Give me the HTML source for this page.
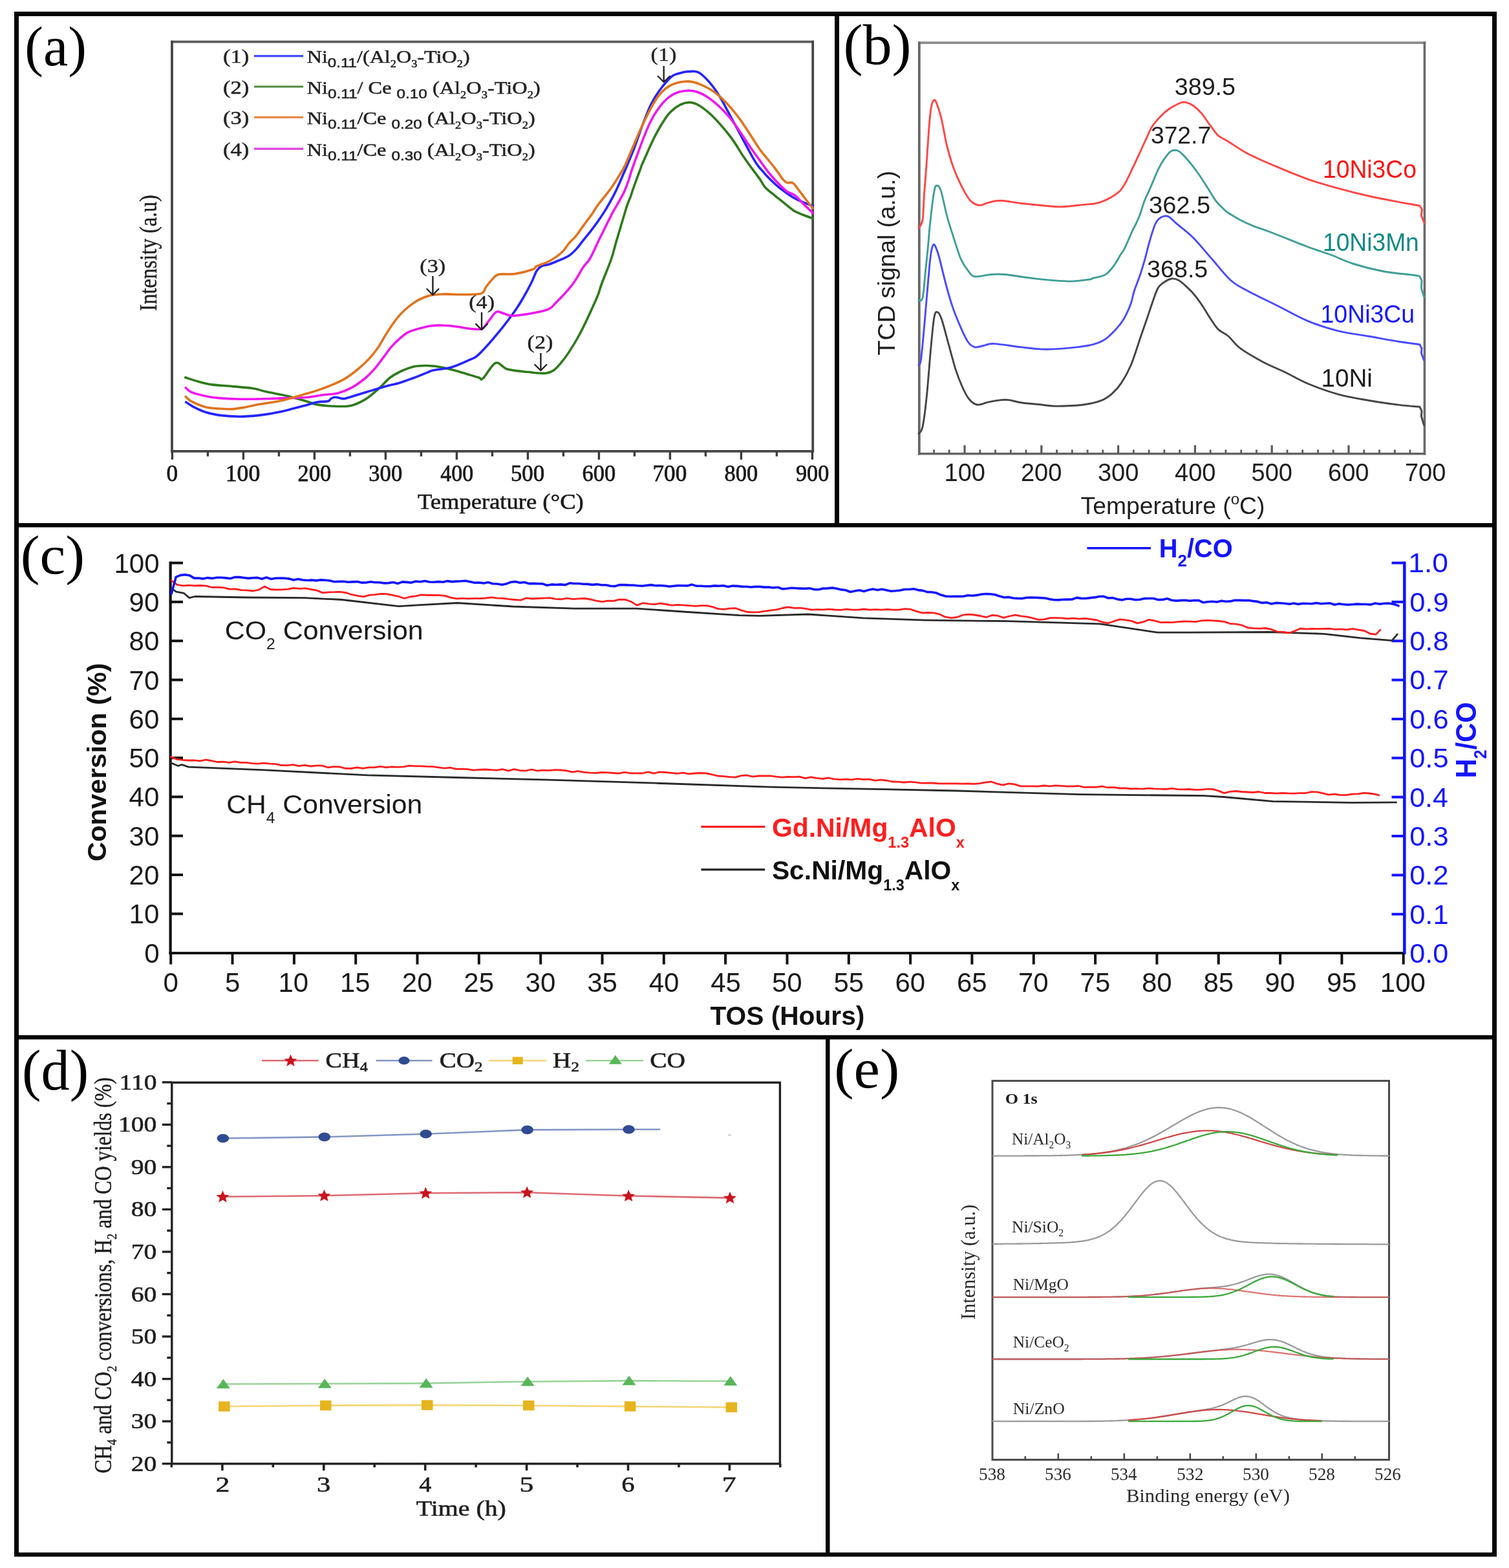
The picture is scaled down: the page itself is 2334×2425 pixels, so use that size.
<!DOCTYPE html>
<html><head><meta charset="utf-8"><title>Figure</title>
<style>html,body{margin:0;padding:0;background:#fff;}body{width:2334px;height:2425px;overflow:hidden;}svg{display:block;}</style>
</head><body>
<svg xmlns="http://www.w3.org/2000/svg" width="2334" height="2425" viewBox="0 0 2334 2425">
<rect x="22" y="18" width="2293" height="7" fill="#050505"/>
<rect x="22" y="18" width="7" height="2389" fill="#050505"/>
<rect x="2308" y="18" width="7" height="2389" fill="#050505"/>
<rect x="22" y="2401" width="2293" height="6.5" fill="#050505"/>
<rect x="22" y="809" width="2293" height="6.5" fill="#050505"/>
<rect x="22" y="1601" width="2293" height="6.5" fill="#050505"/>
<rect x="1291" y="18" width="7" height="797" fill="#050505"/>
<rect x="1277" y="1601" width="6.5" height="806" fill="#050505"/>
<text x="38.3" y="101.2" font-family="'Liberation Serif','Times New Roman',serif" font-size="86.2" textLength="95.6" lengthAdjust="spacingAndGlyphs" fill="#000">(a)</text>
<line x1="264.2" y1="64.6" x2="1259" y2="64.6" stroke="#5c5c5c" stroke-width="3.6"/>
<line x1="266" y1="62.8" x2="266" y2="699.6" stroke="#464646" stroke-width="3.8"/>
<line x1="1257.2" y1="62.8" x2="1257.2" y2="699.6" stroke="#464646" stroke-width="3.8"/>
<line x1="264.2" y1="697.8" x2="1259" y2="697.8" stroke="#464646" stroke-width="3.8"/>
<line x1="266.4" y1="697.8" x2="266.4" y2="710.8" stroke="#3c3c3c" stroke-width="3.4"/>
<line x1="321.4" y1="697.8" x2="321.4" y2="705.8" stroke="#3c3c3c" stroke-width="3.4"/>
<line x1="376.4" y1="697.8" x2="376.4" y2="710.8" stroke="#3c3c3c" stroke-width="3.4"/>
<line x1="431.4" y1="697.8" x2="431.4" y2="705.8" stroke="#3c3c3c" stroke-width="3.4"/>
<line x1="486.4" y1="697.8" x2="486.4" y2="710.8" stroke="#3c3c3c" stroke-width="3.4"/>
<line x1="541.4" y1="697.8" x2="541.4" y2="705.8" stroke="#3c3c3c" stroke-width="3.4"/>
<line x1="596.4" y1="697.8" x2="596.4" y2="710.8" stroke="#3c3c3c" stroke-width="3.4"/>
<line x1="651.4" y1="697.8" x2="651.4" y2="705.8" stroke="#3c3c3c" stroke-width="3.4"/>
<line x1="706.4" y1="697.8" x2="706.4" y2="710.8" stroke="#3c3c3c" stroke-width="3.4"/>
<line x1="761.4" y1="697.8" x2="761.4" y2="705.8" stroke="#3c3c3c" stroke-width="3.4"/>
<line x1="816.4" y1="697.8" x2="816.4" y2="710.8" stroke="#3c3c3c" stroke-width="3.4"/>
<line x1="871.4" y1="697.8" x2="871.4" y2="705.8" stroke="#3c3c3c" stroke-width="3.4"/>
<line x1="926.4" y1="697.8" x2="926.4" y2="710.8" stroke="#3c3c3c" stroke-width="3.4"/>
<line x1="981.4" y1="697.8" x2="981.4" y2="705.8" stroke="#3c3c3c" stroke-width="3.4"/>
<line x1="1036.4" y1="697.8" x2="1036.4" y2="710.8" stroke="#3c3c3c" stroke-width="3.4"/>
<line x1="1091.4" y1="697.8" x2="1091.4" y2="705.8" stroke="#3c3c3c" stroke-width="3.4"/>
<line x1="1146.4" y1="697.8" x2="1146.4" y2="710.8" stroke="#3c3c3c" stroke-width="3.4"/>
<line x1="1201.4" y1="697.8" x2="1201.4" y2="705.8" stroke="#3c3c3c" stroke-width="3.4"/>
<line x1="1256.4" y1="697.8" x2="1256.4" y2="710.8" stroke="#3c3c3c" stroke-width="3.4"/>
<text x="257.6" y="743.6" font-family="'Liberation Serif','Times New Roman',serif" font-size="35" textLength="17.5" lengthAdjust="spacingAndGlyphs" fill="#1a1a1a" stroke="#1a1a1a" stroke-width="0.75">0</text>
<text x="348.8" y="743.6" font-family="'Liberation Serif','Times New Roman',serif" font-size="35" textLength="53.4" lengthAdjust="spacingAndGlyphs" fill="#1a1a1a" stroke="#1a1a1a" stroke-width="0.75">100</text>
<text x="460.6" y="743.6" font-family="'Liberation Serif','Times New Roman',serif" font-size="35" textLength="51.5" lengthAdjust="spacingAndGlyphs" fill="#1a1a1a" stroke="#1a1a1a" stroke-width="0.75">200</text>
<text x="570.3" y="743.6" font-family="'Liberation Serif','Times New Roman',serif" font-size="35" textLength="51.9" lengthAdjust="spacingAndGlyphs" fill="#1a1a1a" stroke="#1a1a1a" stroke-width="0.75">300</text>
<text x="681.3" y="743.6" font-family="'Liberation Serif','Times New Roman',serif" font-size="35" textLength="50.8" lengthAdjust="spacingAndGlyphs" fill="#1a1a1a" stroke="#1a1a1a" stroke-width="0.75">400</text>
<text x="789.9" y="743.6" font-family="'Liberation Serif','Times New Roman',serif" font-size="35" textLength="52.3" lengthAdjust="spacingAndGlyphs" fill="#1a1a1a" stroke="#1a1a1a" stroke-width="0.75">500</text>
<text x="900.6" y="743.6" font-family="'Liberation Serif','Times New Roman',serif" font-size="35" textLength="51.5" lengthAdjust="spacingAndGlyphs" fill="#1a1a1a" stroke="#1a1a1a" stroke-width="0.75">600</text>
<text x="1009.5" y="743.6" font-family="'Liberation Serif','Times New Roman',serif" font-size="35" textLength="52.7" lengthAdjust="spacingAndGlyphs" fill="#1a1a1a" stroke="#1a1a1a" stroke-width="0.75">700</text>
<text x="1120.6" y="743.6" font-family="'Liberation Serif','Times New Roman',serif" font-size="35" textLength="51.5" lengthAdjust="spacingAndGlyphs" fill="#1a1a1a" stroke="#1a1a1a" stroke-width="0.75">800</text>
<text x="1231" y="743.6" font-family="'Liberation Serif','Times New Roman',serif" font-size="35" textLength="51.2" lengthAdjust="spacingAndGlyphs" fill="#1a1a1a" stroke="#1a1a1a" stroke-width="0.75">900</text>
<text x="646" y="787.3" font-family="'Liberation Serif','Times New Roman',serif" font-size="34" textLength="256.7" lengthAdjust="spacingAndGlyphs" fill="#1a1a1a" stroke="#1a1a1a" stroke-width="0.6">Temperature (°C)</text>
<text transform="translate(241.6,481.1) rotate(-90)" x="0" y="0" font-family="'Liberation Serif','Times New Roman',serif" font-size="37" textLength="179.9" lengthAdjust="spacingAndGlyphs" fill="#222" stroke="#222" stroke-width="0.4">Intensity (a.u)</text>
<line x1="393" y1="86.7" x2="469" y2="86.7" stroke="#4a4aff" stroke-width="3.2"/>
<text x="345.1" y="97.2" font-family="'Liberation Serif','Times New Roman',serif" font-size="29" textLength="40.3" lengthAdjust="spacingAndGlyphs" fill="#222" stroke="#222" stroke-width="0.5">(1)</text>
<text x="474.7" y="97.2" font-family="'Liberation Serif','Times New Roman',serif" font-size="28" textLength="252" lengthAdjust="spacingAndGlyphs" fill="#222" stroke="#222" stroke-width="0.5">Ni<tspan font-family="'Liberation Sans',Arial,sans-serif" font-size="21" dy="7">0.11</tspan><tspan dy="-7">/(Al</tspan><tspan font-size="16" dy="7">2</tspan><tspan dy="-7">O</tspan><tspan font-size="16" dy="7">3</tspan><tspan dy="-7">-TiO</tspan><tspan font-size="16" dy="7">2</tspan><tspan dy="-7">)</tspan></text>
<line x1="393" y1="134" x2="469" y2="134" stroke="#4f8a3c" stroke-width="3.2"/>
<text x="345.1" y="144.5" font-family="'Liberation Serif','Times New Roman',serif" font-size="29" textLength="40.3" lengthAdjust="spacingAndGlyphs" fill="#222" stroke="#222" stroke-width="0.5">(2)</text>
<text x="474.7" y="144.5" font-family="'Liberation Serif','Times New Roman',serif" font-size="28" textLength="361" lengthAdjust="spacingAndGlyphs" fill="#222" stroke="#222" stroke-width="0.5">Ni<tspan font-family="'Liberation Sans',Arial,sans-serif" font-size="21" dy="7">0.11</tspan><tspan dy="-7">/ Ce </tspan><tspan font-family="'Liberation Sans',Arial,sans-serif" font-size="21" dy="7">0.10</tspan><tspan dy="-7"> (Al</tspan><tspan font-size="16" dy="7">2</tspan><tspan dy="-7">O</tspan><tspan font-size="16" dy="7">3</tspan><tspan dy="-7">-TiO</tspan><tspan font-size="16" dy="7">2</tspan><tspan dy="-7">)</tspan></text>
<line x1="393" y1="181.4" x2="469" y2="181.4" stroke="#e8894a" stroke-width="3.2"/>
<text x="345.1" y="191.9" font-family="'Liberation Serif','Times New Roman',serif" font-size="29" textLength="40.3" lengthAdjust="spacingAndGlyphs" fill="#222" stroke="#222" stroke-width="0.5">(3)</text>
<text x="474.7" y="191.9" font-family="'Liberation Serif','Times New Roman',serif" font-size="28" textLength="353" lengthAdjust="spacingAndGlyphs" fill="#222" stroke="#222" stroke-width="0.5">Ni<tspan font-family="'Liberation Sans',Arial,sans-serif" font-size="21" dy="7">0.11</tspan><tspan dy="-7">/Ce </tspan><tspan font-family="'Liberation Sans',Arial,sans-serif" font-size="21" dy="7">0.20</tspan><tspan dy="-7"> (Al</tspan><tspan font-size="16" dy="7">2</tspan><tspan dy="-7">O</tspan><tspan font-size="16" dy="7">3</tspan><tspan dy="-7">-TiO</tspan><tspan font-size="16" dy="7">2</tspan><tspan dy="-7">)</tspan></text>
<line x1="393" y1="230.1" x2="469" y2="230.1" stroke="#e040e0" stroke-width="3.2"/>
<text x="345.1" y="240.6" font-family="'Liberation Serif','Times New Roman',serif" font-size="29" textLength="40.3" lengthAdjust="spacingAndGlyphs" fill="#222" stroke="#222" stroke-width="0.5">(4)</text>
<text x="474.7" y="240.6" font-family="'Liberation Serif','Times New Roman',serif" font-size="28" textLength="353" lengthAdjust="spacingAndGlyphs" fill="#222" stroke="#222" stroke-width="0.5">Ni<tspan font-family="'Liberation Sans',Arial,sans-serif" font-size="21" dy="7">0.11</tspan><tspan dy="-7">/Ce </tspan><tspan font-family="'Liberation Sans',Arial,sans-serif" font-size="21" dy="7">0.30</tspan><tspan dy="-7"> (Al</tspan><tspan font-size="16" dy="7">2</tspan><tspan dy="-7">O</tspan><tspan font-size="16" dy="7">3</tspan><tspan dy="-7">-TiO</tspan><tspan font-size="16" dy="7">2</tspan><tspan dy="-7">)</tspan></text>
<path d="M286.7,583.8 C290.1,584.8 299.9,588.2 306.8,590.1 C313.7,592 319.2,593.6 328,594.9 C336.8,596.1 349.2,596.6 359.8,597.6 C370.4,598.6 382.8,599.4 391.6,600.8 C400.5,602.2 404,604.2 412.9,606.1 C421.8,608 434.3,609.9 444.7,612.4 C455.1,614.9 467.2,618.6 475,620.9 C482.8,623.1 483.2,624.6 491.2,625.9 C499.2,627.2 514.2,628.3 523,628.5 C531.8,628.7 537.1,628.9 544.2,627 C551.3,625.1 558.3,621.8 565.4,617.4 C572.5,613 580.4,605.9 586.6,600.4 C592.8,594.9 597.3,588.7 602.6,584.5 C607.9,580.3 612.3,577.9 618.5,575 C624.7,572.1 632.6,568.6 639.7,567 C646.8,565.4 653.5,565.3 660.9,565.5 C668.3,565.7 675.9,566.6 684.2,568.2 C692.5,569.8 701.4,572.3 710.7,574.9 C720,577.5 734,582.1 740,583.8 C746,585.5 742.5,589 747,585.2 C751.5,581.5 760.4,563.6 766.7,561.3 C773,558.9 776.8,568.8 785,571.1 C793.2,573.4 805.6,574.4 815.9,575.3 C826.2,576.2 838.4,578.8 846.8,576.7 C855.2,574.6 858.5,572.1 866.5,562.7 C874.5,553.3 885.2,537.4 894.6,520.5 C904,503.6 916.8,474.9 922.7,461.5 C928.6,448.1 926.4,450.2 930.2,440 C934,429.8 941.9,411 945.7,400 C949.5,389 950.4,383.2 953,374.2 C955.6,365.2 958.6,355.5 961.4,346.1 C964.2,336.8 967.5,325.1 969.8,318.1 C972.1,311.1 973.7,308.7 975.4,304 C977.1,299.3 977.5,297 980,290 C982.5,283 987.8,268.7 990.3,262 C992.8,255.3 990.8,259.3 995,250 C999.2,240.7 1008.2,219 1015.4,206.1 C1022.5,193.2 1029.5,180.3 1037.9,172.4 C1046.3,164.5 1056.6,158.4 1066,158.4 C1075.4,158.4 1083.8,164 1094.1,172.4 C1104.4,180.8 1118.6,197.4 1127.9,209 C1137.2,220.6 1144.3,233.8 1150,242.2 C1155.7,250.6 1158.1,253.8 1162.2,259.4 C1166.3,265 1170.9,270.8 1174.5,275.9 C1178.1,281 1180.1,285.9 1183.7,290 C1187.3,294.1 1191.3,296.6 1195.9,300.4 C1200.5,304.2 1206.1,308.5 1211.2,312.6 C1216.3,316.7 1221.9,321.8 1226.5,324.9 C1231.1,328 1233.6,328.9 1238.7,331 C1243.8,333.1 1254,336.7 1257,337.8" fill="none" stroke="#2f7a1c" stroke-width="3.6" stroke-linejoin="round" stroke-linecap="round"/>
<path d="M287.7,622 C290,623.4 296.6,627.9 301.5,630.4 C306.4,632.9 311.2,635.3 317.4,637.3 C323.6,639.2 329.8,641 338.6,642.1 C347.4,643.2 359.8,644.2 370.4,644.2 C381,644.2 391.7,643.3 402.3,642.1 C412.9,640.9 422,639.4 434.1,636.8 C446.2,634.1 465.5,628.7 475,626.2 C484.5,623.7 485.8,622.6 491.2,621.7 C496.6,620.8 503.6,621.5 507.1,620.6 C510.6,619.7 510.2,617.6 512,616.5 C513.8,615.4 515.5,614.4 517.7,614.2 C519.9,614 522.4,615.1 525,615.5 C527.6,615.9 528.6,617.3 533.6,616.4 C538.6,615.5 547.7,612.1 554.8,610 C561.9,607.9 568.9,605.7 576,603.6 C583.1,601.5 590.2,599.2 597.3,597.3 C604.4,595.4 611.4,594.1 618.5,592 C625.6,589.9 632.6,587.1 639.7,584.5 C646.8,581.9 655.7,578.1 660.9,576.1 C666.1,574.1 664.8,573.7 670.9,572.4 C677,571.1 688.1,570.9 697.4,568.2 C706.7,565.5 719.5,559.6 726.6,556.3 C733.7,553 733.1,555 740,548.6 C746.9,542.2 758.7,528.9 768.1,517.7 C777.5,506.5 789.2,491 796.2,481.2 C803.2,471.4 806,466.1 810.3,458.7 C814.6,451.3 818.7,443.6 822,437 C825.3,430.4 827.4,423.2 830,419 C832.6,414.8 834.4,413.4 837.6,411.7 C840.8,410 844.8,410.3 849.1,408.9 C853.4,407.5 858.2,405.4 863.4,403.2 C868.5,401 875.4,398.5 880,395.5 C884.6,392.5 887.5,389.4 891.2,385.4 C894.9,381.4 898.6,376.1 902.4,371.4 C906.1,366.7 910,362.2 913.7,357.3 C917.5,352.4 921.2,347.5 924.9,342.2 C928.6,336.9 932.8,330.6 936.1,325.4 C939.4,320.2 941.7,315.9 944.5,310.8 C947.3,305.7 949.8,301.2 953,294.5 C956.2,287.8 959.3,280.5 963.6,270.5 C967.9,260.5 971.7,252.5 978.9,234.3 C986.1,216.1 997.6,179.9 1007,161.2 C1016.4,142.4 1027.6,129.8 1035.1,121.8 C1042.6,113.8 1046.8,114.9 1052,113 C1057.2,111.1 1060.8,110.5 1066,110.6 C1071.2,110.7 1075.9,108.2 1082.9,113.4 C1089.9,118.6 1099.8,129.3 1108.2,141.5 C1116.6,153.7 1124,169.2 1133.5,186.5 C1143,203.8 1158,232.7 1165.3,245.3 C1172.6,257.9 1172.9,256.8 1177.5,262.4 C1182.1,268 1187.7,274 1192.8,279 C1197.9,284 1202.5,288 1208.1,292.4 C1213.7,296.8 1220.9,301.9 1226.5,305.3 C1232.1,308.7 1236.7,310.4 1241.8,312.6 C1246.9,314.8 1254.5,317.4 1257,318.3" fill="none" stroke="#2424ff" stroke-width="3.6" stroke-linejoin="round" stroke-linecap="round"/>
<path d="M287.2,599.7 C288.7,600.9 291.2,604.5 296.2,606.6 C301.2,608.7 310.3,610.9 317.4,612.4 C324.5,613.9 329.8,614.8 338.6,615.6 C347.4,616.4 358,617 370.4,617.2 C382.8,617.4 400.5,617 412.9,616.7 C425.3,616.4 434.3,616 444.7,615.6 C455.1,615.2 465.5,615.4 475,614.5 C484.5,613.6 493.8,611.6 501.8,610.5 C509.8,609.4 515.9,609.8 523,607.9 C530.1,606 537.1,603.3 544.2,599.4 C551.3,595.5 559.5,589.4 565.4,584.5 C571.3,579.6 575.2,575.1 579.7,570 C584.2,564.9 588.2,559.1 592.4,553.6 C596.6,548.1 600.9,541.7 605.1,536.7 C609.4,531.8 613.8,527.6 617.9,523.9 C622,520.2 625.7,517 630,514.6 C634.3,512.2 637.8,511.2 643.6,509.5 C649.4,507.8 657.7,505.2 664.8,504.2 C671.9,503.1 678.9,503 686,503.2 C693.1,503.4 700.2,504.4 707.3,505.3 C714.4,506.2 722.1,508 728.5,508.5 C734.9,509 741.2,510.1 745.4,508.5 C749.6,506.9 750.5,503 753.9,498.9 C757.3,494.8 762.8,486.9 765.6,484.1 C768.4,481.3 768.5,481.8 770.9,482 C773.3,482.2 775.8,484.1 780,485.1 C784.2,486.1 785.5,489.1 796.2,488.2 C806.9,487.3 833.2,483.3 844,479.8 C854.8,476.3 854,473.7 860.9,467.1 C867.8,460.5 878.6,448.9 885.4,440 C892.2,431.1 897.1,420.7 901.6,414 C906.1,407.3 908.6,406.6 912.5,400 C916.4,393.4 921,382.2 924.9,374.2 C928.8,366.1 932.4,359.2 936.1,351.7 C939.8,344.2 943.5,336.3 947.3,329.3 C951,322.3 955.6,315 958.6,309.6 C961.6,304.2 963.1,301.6 965.3,296.7 C967.5,291.8 969.5,286.9 972,280 C974.5,273.1 974.2,270.6 980,255 C985.8,239.4 997.8,204 1007,186.5 C1016.2,169 1025.3,157.6 1035.1,149.9 C1044.9,142.2 1056.2,140.1 1066,140.1 C1075.8,140.1 1083.8,143.1 1094.1,149.9 C1104.4,156.7 1116.6,167.6 1127.9,180.9 C1139.2,194.2 1154.4,219 1162.2,230 C1170,241 1169.9,240.8 1174.5,247.1 C1179.1,253.4 1184.7,261.7 1189.8,268 C1194.9,274.3 1200.5,280.4 1205.1,285.1 C1209.7,289.8 1213.2,293.2 1217.3,296.1 C1221.4,299 1225.5,299.1 1229.6,302.2 C1233.7,305.3 1237.2,310 1241.8,314.5 C1246.4,319 1254.5,326.8 1257,329.3" fill="none" stroke="#ee18ee" stroke-width="3.6" stroke-linejoin="round" stroke-linecap="round"/>
<path d="M287.2,613.5 C288.7,614.7 291.2,618.2 296.2,620.9 C301.2,623.5 310.3,627.5 317.4,629.4 C324.5,631.2 331.5,631.5 338.6,632 C345.7,632.5 352.7,633 359.8,632.6 C366.9,632.2 373.9,630.6 381,629.4 C388.1,628.1 393.4,626.7 402.3,625.1 C411.2,623.5 422,622.6 434.1,619.8 C446.2,617 465.5,611.2 475,608.5 C484.5,605.8 485,605.7 491.2,603.6 C497.4,601.5 505.3,598.7 512.4,595.7 C519.5,592.7 526.6,589.8 533.6,585.6 C540.6,581.4 547.9,575.7 554.2,570.5 C560.5,565.3 566.2,559.8 571.2,554.5 C576.2,549.2 579.6,544.9 583.9,538.8 C588.1,532.6 592.5,524.3 596.7,517.6 C601,510.9 605.1,504.3 609.4,498.5 C613.7,492.7 616.7,488.4 622.4,483 C628.1,477.6 636.5,470.3 643.6,466 C650.7,461.7 657.7,458.9 664.8,457 C671.9,455.1 677.1,455.1 686,454.9 C694.9,454.6 708.2,455.7 717.9,455.5 C727.6,455.3 738.8,455.8 744.4,453.9 C750,451.9 749.1,447.2 751.8,443.8 C754.4,440.4 757.1,436.4 760.3,433.2 C763.5,430 764.9,426.1 770.9,424.5 C776.9,422.9 787.3,424.9 796.2,423.6 C805.1,422.3 818.7,418.5 824.3,416.5 C829.9,414.5 825.9,413.8 830,411.7 C834.1,409.6 842.7,407.6 849.1,404.1 C855.5,400.7 863.1,395.6 868.2,391 C873.4,386.4 876.2,380.8 880,376.4 C883.8,372 887.5,369.2 891.2,364.6 C894.9,360 898.6,354 902.4,348.9 C906.1,343.8 910,339.1 913.7,333.8 C917.5,328.5 921.2,322 924.9,316.9 C928.6,311.8 932.4,307.7 936.1,302.9 C939.8,298.1 943.6,293.3 947.3,288 C950.9,282.7 954.5,276.8 958,271 C961.5,265.2 962.2,265.7 968,253 C973.8,240.3 985.1,211.6 993,194.9 C1000.9,178.2 1008.4,163 1015.4,152.7 C1022.4,142.4 1027.6,137.5 1035.1,133.1 C1042.6,128.7 1052.4,126.5 1060.4,126 C1068.4,125.5 1074.5,126.8 1082.9,130.3 C1091.3,133.8 1101.2,138.7 1111,147.1 C1120.8,155.5 1131.3,167.1 1141.9,180.9 C1152.5,194.7 1167,219.3 1174.5,230 C1182,240.7 1182.6,240.2 1186.7,245.3 C1190.8,250.4 1194.9,255.2 1199,260.6 C1203.1,266 1208.2,274 1211.2,277.7 C1214.2,281.4 1214.8,281.7 1217.3,282.6 C1219.8,283.5 1223.4,281.2 1226.5,283.2 C1229.6,285.1 1232.6,290.4 1235.7,294.3 C1238.8,298.2 1241.4,301.9 1244.9,306.5 C1248.5,311.1 1255,319.4 1257,322" fill="none" stroke="#e0741e" stroke-width="3.6" stroke-linejoin="round" stroke-linecap="round"/>
<text x="649.3" y="420.8" font-family="'Liberation Serif','Times New Roman',serif" font-size="30" textLength="39.9" lengthAdjust="spacingAndGlyphs" fill="#222" stroke="#222" stroke-width="0.4">(3)</text>
<line x1="669.4" y1="427" x2="669.4" y2="456" stroke="#222" stroke-width="2.4"/>
<path d="M660.4,447 L669.4,456 L678.4,447" fill="none" stroke="#222" stroke-width="2.4" stroke-linejoin="round" stroke-linecap="round"/>
<text x="725.2" y="476.5" font-family="'Liberation Serif','Times New Roman',serif" font-size="30" textLength="39.9" lengthAdjust="spacingAndGlyphs" fill="#222" stroke="#222" stroke-width="0.4">(4)</text>
<line x1="745" y1="483" x2="745" y2="510" stroke="#222" stroke-width="2.4"/>
<path d="M736,501 L745,510 L754,501" fill="none" stroke="#222" stroke-width="2.4" stroke-linejoin="round" stroke-linecap="round"/>
<text x="815.6" y="539" font-family="'Liberation Serif','Times New Roman',serif" font-size="30" textLength="39.9" lengthAdjust="spacingAndGlyphs" fill="#222" stroke="#222" stroke-width="0.4">(2)</text>
<line x1="836.4" y1="546" x2="836.4" y2="573" stroke="#222" stroke-width="2.4"/>
<path d="M827.4,564 L836.4,573 L845.4,564" fill="none" stroke="#222" stroke-width="2.4" stroke-linejoin="round" stroke-linecap="round"/>
<text x="1006.6" y="93.5" font-family="'Liberation Serif','Times New Roman',serif" font-size="30" textLength="39.9" lengthAdjust="spacingAndGlyphs" fill="#222" stroke="#222" stroke-width="0.4">(1)</text>
<line x1="1026.7" y1="102" x2="1026.7" y2="127" stroke="#222" stroke-width="2.4"/>
<path d="M1017.7,118 L1026.7,127 L1035.7,118" fill="none" stroke="#222" stroke-width="2.4" stroke-linejoin="round" stroke-linecap="round"/>
<text x="1304.4" y="98.9" font-family="'Liberation Serif','Times New Roman',serif" font-size="88.3" textLength="105.2" lengthAdjust="spacingAndGlyphs" fill="#000">(b)</text>
<line x1="1420" y1="66.2" x2="2205.2" y2="66.2" stroke="#8c8c8c" stroke-width="3.8"/>
<line x1="1421.8" y1="64.3" x2="1421.8" y2="703.5" stroke="#666" stroke-width="3.8"/>
<line x1="2203.4" y1="64.3" x2="2203.4" y2="703.5" stroke="#6a6a6a" stroke-width="3.6"/>
<line x1="1420" y1="701.8" x2="2205.2" y2="701.8" stroke="#666" stroke-width="3.6"/>
<line x1="1444.5" y1="701.5" x2="1444.5" y2="695.5" stroke="#5a5a5a" stroke-width="2.8"/>
<line x1="1468.2" y1="701.5" x2="1468.2" y2="695.5" stroke="#5a5a5a" stroke-width="2.8"/>
<line x1="1492" y1="701.5" x2="1492" y2="688.5" stroke="#5a5a5a" stroke-width="3.2"/>
<line x1="1515.8" y1="701.5" x2="1515.8" y2="695.5" stroke="#5a5a5a" stroke-width="2.8"/>
<line x1="1539.5" y1="701.5" x2="1539.5" y2="695.5" stroke="#5a5a5a" stroke-width="2.8"/>
<line x1="1563.3" y1="701.5" x2="1563.3" y2="695.5" stroke="#5a5a5a" stroke-width="2.8"/>
<line x1="1587" y1="701.5" x2="1587" y2="695.5" stroke="#5a5a5a" stroke-width="2.8"/>
<line x1="1610.8" y1="701.5" x2="1610.8" y2="688.5" stroke="#5a5a5a" stroke-width="3.2"/>
<line x1="1634.6" y1="701.5" x2="1634.6" y2="695.5" stroke="#5a5a5a" stroke-width="2.8"/>
<line x1="1658.3" y1="701.5" x2="1658.3" y2="695.5" stroke="#5a5a5a" stroke-width="2.8"/>
<line x1="1682.1" y1="701.5" x2="1682.1" y2="695.5" stroke="#5a5a5a" stroke-width="2.8"/>
<line x1="1705.8" y1="701.5" x2="1705.8" y2="695.5" stroke="#5a5a5a" stroke-width="2.8"/>
<line x1="1729.6" y1="701.5" x2="1729.6" y2="688.5" stroke="#5a5a5a" stroke-width="3.2"/>
<line x1="1753.4" y1="701.5" x2="1753.4" y2="695.5" stroke="#5a5a5a" stroke-width="2.8"/>
<line x1="1777.1" y1="701.5" x2="1777.1" y2="695.5" stroke="#5a5a5a" stroke-width="2.8"/>
<line x1="1800.9" y1="701.5" x2="1800.9" y2="695.5" stroke="#5a5a5a" stroke-width="2.8"/>
<line x1="1824.6" y1="701.5" x2="1824.6" y2="695.5" stroke="#5a5a5a" stroke-width="2.8"/>
<line x1="1848.4" y1="701.5" x2="1848.4" y2="688.5" stroke="#5a5a5a" stroke-width="3.2"/>
<line x1="1872.2" y1="701.5" x2="1872.2" y2="695.5" stroke="#5a5a5a" stroke-width="2.8"/>
<line x1="1895.9" y1="701.5" x2="1895.9" y2="695.5" stroke="#5a5a5a" stroke-width="2.8"/>
<line x1="1919.7" y1="701.5" x2="1919.7" y2="695.5" stroke="#5a5a5a" stroke-width="2.8"/>
<line x1="1943.4" y1="701.5" x2="1943.4" y2="695.5" stroke="#5a5a5a" stroke-width="2.8"/>
<line x1="1967.2" y1="701.5" x2="1967.2" y2="688.5" stroke="#5a5a5a" stroke-width="3.2"/>
<line x1="1991" y1="701.5" x2="1991" y2="695.5" stroke="#5a5a5a" stroke-width="2.8"/>
<line x1="2014.7" y1="701.5" x2="2014.7" y2="695.5" stroke="#5a5a5a" stroke-width="2.8"/>
<line x1="2038.5" y1="701.5" x2="2038.5" y2="695.5" stroke="#5a5a5a" stroke-width="2.8"/>
<line x1="2062.2" y1="701.5" x2="2062.2" y2="695.5" stroke="#5a5a5a" stroke-width="2.8"/>
<line x1="2086" y1="701.5" x2="2086" y2="688.5" stroke="#5a5a5a" stroke-width="3.2"/>
<line x1="2109.8" y1="701.5" x2="2109.8" y2="695.5" stroke="#5a5a5a" stroke-width="2.8"/>
<line x1="2133.5" y1="701.5" x2="2133.5" y2="695.5" stroke="#5a5a5a" stroke-width="2.8"/>
<line x1="2157.3" y1="701.5" x2="2157.3" y2="695.5" stroke="#5a5a5a" stroke-width="2.8"/>
<line x1="2181" y1="701.5" x2="2181" y2="695.5" stroke="#5a5a5a" stroke-width="2.8"/>
<text x="1460.5" y="744" font-family="'Liberation Sans',Arial,sans-serif" font-size="38" textLength="63.4" lengthAdjust="spacingAndGlyphs" fill="#1e1e1e">100</text>
<text x="1578.9" y="744" font-family="'Liberation Sans',Arial,sans-serif" font-size="38" textLength="63.4" lengthAdjust="spacingAndGlyphs" fill="#1e1e1e">200</text>
<text x="1697.9" y="744" font-family="'Liberation Sans',Arial,sans-serif" font-size="38" textLength="63.4" lengthAdjust="spacingAndGlyphs" fill="#1e1e1e">300</text>
<text x="1817.1" y="744" font-family="'Liberation Sans',Arial,sans-serif" font-size="38" textLength="63.4" lengthAdjust="spacingAndGlyphs" fill="#1e1e1e">400</text>
<text x="1935.5" y="744" font-family="'Liberation Sans',Arial,sans-serif" font-size="38" textLength="63.4" lengthAdjust="spacingAndGlyphs" fill="#1e1e1e">500</text>
<text x="2054.1" y="744" font-family="'Liberation Sans',Arial,sans-serif" font-size="38" textLength="63.4" lengthAdjust="spacingAndGlyphs" fill="#1e1e1e">600</text>
<text x="2172.9" y="744" font-family="'Liberation Sans',Arial,sans-serif" font-size="38" textLength="63.4" lengthAdjust="spacingAndGlyphs" fill="#1e1e1e">700</text>
<text x="1671.5" y="795" font-family="'Liberation Sans',Arial,sans-serif" font-size="37" textLength="285" lengthAdjust="spacingAndGlyphs" fill="#1e1e1e">Temperature (<tspan font-size="24" dy="-15">o</tspan><tspan dy="15">C)</tspan></text>
<text transform="translate(1383.5,549.6) rotate(-90)" x="0" y="0" font-family="'Liberation Sans',Arial,sans-serif" font-size="37.5" textLength="285.6" lengthAdjust="spacingAndGlyphs" fill="#1e1e1e">TCD signal (a.u.)</text>
<path d="M1421,670.6 C1422,668.8 1425,669.5 1427,660 C1429,650.5 1431.2,633.4 1433.3,613.3 C1435.4,593.1 1437.8,559.6 1439.7,539.1 C1441.7,518.6 1443.2,499.7 1445,490.3 C1446.8,480.9 1448.3,482.2 1450.3,482.9 C1452.2,483.6 1453.9,486.2 1456.7,494.5 C1459.5,502.8 1463.8,520 1467.3,532.7 C1470.8,545.4 1474.4,559.9 1477.9,570.9 C1481.4,581.9 1485,590.7 1488.5,598.5 C1492,606.3 1495.2,612.9 1499.1,617.5 C1503,622.1 1506.8,625.3 1511.8,626 C1516.8,626.7 1522.8,623 1528.8,621.8 C1534.8,620.6 1542.6,619.1 1547.9,618.6 C1553.2,618.1 1555.3,617.9 1560.6,618.6 C1565.9,619.3 1571.2,621.6 1579.7,622.8 C1588.2,624 1602.7,625.1 1611.5,626 C1620.3,626.9 1622.1,628.1 1632.7,628.1 C1643.3,628.1 1663.4,627.4 1675.1,626 C1686.8,624.6 1695.3,622.5 1702.7,619.7 C1710.1,616.9 1714.4,613.7 1719.7,609.1 C1725,604.5 1729.6,599.5 1734.5,592.1 C1739.4,584.7 1744.3,576.5 1749.3,564.5 C1754.3,552.5 1760.5,531.9 1764.6,520 C1768.7,508.1 1770.9,502 1773.9,493.3 C1776.9,484.6 1779.6,475.8 1782.4,467.9 C1785.2,460 1788.1,450.9 1790.9,445.8 C1793.7,440.7 1795.9,439.8 1799.4,437.3 C1802.9,434.8 1808.1,431.6 1812.1,431 C1816,430.4 1819.6,431.7 1823.1,433.5 C1826.6,435.3 1829.5,438.1 1833.3,441.6 C1837.1,445.1 1841.8,449.4 1846,454.3 C1850.2,459.2 1854.5,465 1858.7,471.2 C1863,477.4 1867.2,485.2 1871.5,491.6 C1875.8,498 1879.5,504.7 1884.2,509.4 C1889,514.1 1894.3,515.1 1900,520 C1905.7,524.9 1909.4,532.1 1918.3,538.7 C1927.2,545.3 1941.6,553.5 1953.3,559.7 C1965,565.9 1976.6,570.4 1988.3,576 C2000,581.6 2009.7,587.9 2023.3,593.5 C2036.9,599.1 2054.4,605.5 2070,609.8 C2085.6,614.1 2101,616.5 2116.6,619.2 C2132.2,621.9 2150.1,624.4 2163.3,626.1 C2176.5,627.8 2190.6,628.7 2196,629.2 L2199,636 L2198.3,643.6 L2202.5,657.6" fill="none" stroke="#454545" stroke-width="2.9" stroke-linejoin="round" stroke-linecap="round"/>
<path d="M1421,564.5 C1421.6,562.7 1423.1,567 1424.8,553.9 C1426.5,540.8 1429.1,509.7 1431.2,486 C1433.3,462.3 1436,428.5 1437.6,411.8 C1439.2,395.1 1439.8,391.6 1441,386 C1442.2,380.4 1443.3,378.3 1444.5,378 C1445.7,377.7 1446.7,380.8 1448,384 C1449.3,387.2 1449.9,387.8 1452.4,397 C1454.9,406.2 1459.5,426.3 1463,439.4 C1466.5,452.5 1469.7,464.1 1473.6,475.4 C1477.5,486.7 1482.5,498.4 1486.4,507.3 C1490.3,516.1 1493.5,523.6 1497,528.5 C1500.5,533.4 1503.7,535.9 1507.6,536.9 C1511.5,537.9 1515.3,535.7 1520.3,534.8 C1525.2,533.9 1527.4,531.2 1537.3,531.6 C1547.2,532 1567.3,535.5 1579.7,536.9 C1592.1,538.3 1600.9,539.7 1611.5,540.1 C1622.1,540.5 1630.9,540.2 1643.3,539.1 C1655.7,538 1675.1,535.9 1685.7,533.8 C1696.3,531.7 1700.5,530 1706.9,526.3 C1713.3,522.6 1718.6,517.1 1723.9,511.5 C1729.2,505.9 1734.5,499.5 1738.7,492.4 C1742.9,485.3 1746.7,476.2 1749.3,469.1 C1751.9,462 1751.8,457.6 1754.3,450 C1756.8,442.4 1761.2,431.8 1764,423.5 C1766.8,415.2 1768.9,407.8 1771,400.4 C1773.1,393 1774.7,385.6 1776.5,379 C1778.3,372.4 1780.2,365.9 1781.9,360.6 C1783.6,355.3 1784.9,350.6 1786.6,347 C1788.3,343.4 1789.8,341.1 1792,339 C1794.2,336.9 1797.3,335 1800,334.4 C1802.7,333.8 1804.5,333.3 1807.9,335.3 C1811.3,337.3 1814,340.8 1820.2,346.2 C1826.5,351.6 1836.4,358.4 1845.4,367.5 C1854.5,376.6 1864.8,389.5 1874.5,400.5 C1884.2,411.5 1894.3,425.2 1903.6,433.5 C1912.8,441.8 1917.8,443.4 1930,450 C1942.2,456.6 1961.2,465.5 1976.7,473.3 C1992.2,481.1 2007.8,490.3 2023.3,496.7 C2038.8,503.1 2054.4,507.9 2070,511.8 C2085.6,515.7 2101,517.3 2116.6,520 C2132.2,522.7 2150.1,526.1 2163.3,528.2 C2176.5,530.3 2190.6,532 2196,532.8 L2199,539 L2198.3,545.7 L2202.5,557.3" fill="none" stroke="#4a4aff" stroke-width="2.9" stroke-linejoin="round" stroke-linecap="round"/>
<path d="M1421,464.8 C1422,464.1 1425.3,467.7 1427,460.6 C1428.7,453.5 1429.8,435.8 1431.2,422.4 C1432.6,409 1434.3,392.7 1435.5,380 C1436.7,367.3 1437,360.1 1438.5,346.3 C1440,332.5 1442.9,306.9 1444.7,297 C1446.5,287.1 1447.5,287.3 1449.3,287 C1451.1,286.7 1452.9,287.3 1455.5,295.4 C1458.1,303.5 1461.7,323.3 1465.1,335.7 C1468.5,348.1 1472.2,358.7 1475.7,369.6 C1479.2,380.5 1482.9,393.1 1486.4,401.2 C1490,409.3 1493.5,413.8 1497,418.2 C1500.5,422.6 1501.6,426.6 1507.6,427.7 C1513.6,428.8 1525.2,425 1533,424.5 C1540.8,424 1542.9,423.4 1554.2,424.5 C1565.5,425.6 1584.3,429.1 1600.9,430.9 C1617.5,432.7 1639.8,434.9 1653.9,435.1 C1668,435.3 1679.7,432.8 1685.7,432 C1691.7,431.2 1686.2,431.5 1690,430.4 C1693.8,429.3 1703.8,427.6 1708.4,425.5 C1713,423.4 1714.5,421 1717.6,417.6 C1720.6,414.2 1724.2,409.2 1726.7,405.3 C1729.2,401.4 1730.9,397.7 1732.9,394.3 C1735,390.9 1737,388.9 1739,385.1 C1741,381.3 1743.1,376.2 1745.1,371.6 C1747.1,367 1749.2,362 1751.2,357.6 C1753.2,353.2 1755.4,349.7 1757.4,345.3 C1759.5,340.9 1761.4,336.7 1763.5,331 C1765.6,325.3 1767.5,317.4 1770,311 C1772.5,304.6 1774.7,300.9 1778.2,292.9 C1781.7,284.9 1787.4,270.7 1790.9,263.2 C1794.4,255.7 1796.2,252.7 1799.4,247.9 C1802.7,243.1 1806.9,236.9 1810.4,234.3 C1813.9,231.8 1817.5,231.9 1820.6,232.6 C1823.7,233.3 1825.5,235.2 1829,238.6 C1832.5,242 1837.5,247.8 1841.8,253 C1846,258.2 1850.3,263.9 1854.5,270 C1858.7,276.1 1863,282.9 1867.2,289.5 C1871.5,296.1 1875.8,304.2 1880,309.8 C1884.2,315.4 1889.4,320.1 1892.7,323.4 C1896,326.6 1895.7,326.5 1900,329.3 C1904.3,332.1 1911.6,336.8 1918.3,340.3 C1925,343.8 1932.2,347 1940,350.1 C1947.8,353.2 1951.1,353.7 1965,359 C1978.9,364.3 2007.8,376.2 2023.3,382 C2038.8,387.8 2046.6,389.7 2058.3,394 C2070,398.3 2079.7,403.7 2093.3,408 C2106.9,412.3 2124.4,416.8 2140,419.7 C2155.6,422.6 2177.3,424.2 2186.6,425.5 C2195.9,426.8 2194.4,427.2 2196,427.5 L2199,434 L2198.3,445.3 L2202.5,459.3" fill="none" stroke="#3f9f96" stroke-width="2.9" stroke-linejoin="round" stroke-linecap="round"/>
<path d="M1421,352.7 C1422,350.6 1425.6,348.8 1427,340 C1428.4,331.2 1428.5,313.4 1429.5,300 C1430.5,286.6 1431.5,275.3 1432.7,259.4 C1433.9,243.4 1435.2,219.6 1436.4,204.3 C1437.6,189 1438.6,175.8 1440,167.5 C1441.4,159.2 1443.1,155.8 1444.6,154.7 C1446.1,153.6 1447.2,155.9 1449.2,161.1 C1451.2,166.3 1454.1,175.7 1456.6,185.9 C1459,196.2 1461.2,211.1 1463.9,222.6 C1466.7,234.1 1470,245.6 1473.1,254.8 C1476.2,264 1479.2,270.8 1482.3,277.7 C1485.4,284.6 1488.5,290.7 1491.5,296.1 C1494.5,301.5 1497.5,306.5 1500.6,309.9 C1503.6,313.3 1506.9,315.1 1509.8,316.3 C1512.7,317.5 1514.8,317.7 1518,317.2 C1521.2,316.7 1523.8,314.5 1528.8,313.4 C1533.8,312.2 1539.4,310.1 1547.9,310.3 C1556.4,310.5 1567.3,313.1 1579.7,314.5 C1592.1,315.9 1611.5,317.8 1622.1,318.7 C1632.7,319.6 1634.5,320.1 1643.3,319.8 C1652.1,319.5 1665.6,317.7 1675.1,316.6 C1684.5,315.5 1691.9,315.8 1700,313.3 C1708.1,310.8 1717.4,306.3 1723.9,301.8 C1730.4,297.3 1732.6,296.4 1738.8,286.1 C1745,275.8 1755.3,252.3 1761.2,240 C1767.1,227.7 1770.4,219.6 1773.9,212.1 C1777.4,204.6 1778.9,200.5 1782.4,195.1 C1785.9,189.7 1790.8,184.3 1795.1,179.9 C1799.3,175.5 1803,172.2 1807.9,168.8 C1812.9,165.4 1820.6,161.3 1824.8,159.5 C1829,157.7 1829.8,157.5 1833.3,158.2 C1836.8,158.9 1841.8,160.8 1846,163.7 C1850.2,166.6 1854.5,170.6 1858.7,175.6 C1863,180.6 1867.2,187.7 1871.5,193.4 C1875.8,199.1 1879.5,205.3 1884.2,209.6 C1889,213.8 1892.4,214.2 1900,218.9 C1907.6,223.6 1917.2,231.1 1930,237.7 C1942.8,244.3 1961.2,252.1 1976.7,258.7 C1992.2,265.3 2007.8,271.9 2023.3,277.3 C2038.8,282.7 2054.4,287 2070,291.3 C2085.6,295.6 2101,299.5 2116.6,303 C2132.2,306.5 2150.1,309.8 2163.3,312.3 C2176.5,314.8 2190.6,317.2 2196,318.2 L2199.5,324 L2198.3,333.3 L2203,345" fill="none" stroke="#ff4646" stroke-width="2.9" stroke-linejoin="round" stroke-linecap="round"/>
<text x="1816.8" y="147" font-family="'Liberation Sans',Arial,sans-serif" font-size="37.5" textLength="94.2" lengthAdjust="spacingAndGlyphs" fill="#1e1e1e">389.5</text>
<text x="1779.9" y="221.5" font-family="'Liberation Sans',Arial,sans-serif" font-size="37.5" textLength="93.3" lengthAdjust="spacingAndGlyphs" fill="#1e1e1e">372.7</text>
<text x="1777" y="330" font-family="'Liberation Sans',Arial,sans-serif" font-size="37.5" textLength="95.2" lengthAdjust="spacingAndGlyphs" fill="#1e1e1e">362.5</text>
<text x="1774.1" y="429" font-family="'Liberation Sans',Arial,sans-serif" font-size="37.5" textLength="94.2" lengthAdjust="spacingAndGlyphs" fill="#1e1e1e">368.5</text>
<text x="2046" y="275" font-family="'Liberation Sans',Arial,sans-serif" font-size="38.5" textLength="144.9" lengthAdjust="spacingAndGlyphs" fill="#ff1010">10Ni3Co</text>
<text x="2046" y="388" font-family="'Liberation Sans',Arial,sans-serif" font-size="38.5" textLength="148.8" lengthAdjust="spacingAndGlyphs" fill="#108a84">10Ni3Mn</text>
<text x="2042.5" y="499" font-family="'Liberation Sans',Arial,sans-serif" font-size="38.5" textLength="145.7" lengthAdjust="spacingAndGlyphs" fill="#1616ff">10Ni3Cu</text>
<text x="2043.5" y="598" font-family="'Liberation Sans',Arial,sans-serif" font-size="38.5" textLength="79.4" lengthAdjust="spacingAndGlyphs" fill="#1e1e1e">10Ni</text>
<text x="31.8" y="887.4" font-family="'Liberation Serif','Times New Roman',serif" font-size="85.3" textLength="99.3" lengthAdjust="spacingAndGlyphs" fill="#000">(c)</text>
<line x1="263.6" y1="868.6" x2="263.6" y2="1476" stroke="#111" stroke-width="4.2"/>
<line x1="261.5" y1="1474" x2="2170" y2="1474" stroke="#111" stroke-width="4.2"/>
<line x1="2172.3" y1="868.5" x2="2172.3" y2="1476" stroke="#1414ff" stroke-width="4.6"/>
<text x="223.2" y="1488.6" font-family="'Liberation Sans',Arial,sans-serif" font-size="42" textLength="23.4" lengthAdjust="spacingAndGlyphs" fill="#1a1a1a">0</text>
<line x1="263.6" y1="1413.3" x2="283" y2="1413.3" stroke="#111" stroke-width="4"/>
<text x="199.6" y="1428.3" font-family="'Liberation Sans',Arial,sans-serif" font-size="42" textLength="46.7" lengthAdjust="spacingAndGlyphs" fill="#1a1a1a">10</text>
<line x1="263.6" y1="1353" x2="283" y2="1353" stroke="#111" stroke-width="4"/>
<text x="199.6" y="1368" font-family="'Liberation Sans',Arial,sans-serif" font-size="42" textLength="46.7" lengthAdjust="spacingAndGlyphs" fill="#1a1a1a">20</text>
<line x1="263.6" y1="1292.7" x2="283" y2="1292.7" stroke="#111" stroke-width="4"/>
<text x="199.6" y="1307.7" font-family="'Liberation Sans',Arial,sans-serif" font-size="42" textLength="46.7" lengthAdjust="spacingAndGlyphs" fill="#1a1a1a">30</text>
<line x1="263.6" y1="1232.4" x2="283" y2="1232.4" stroke="#111" stroke-width="4"/>
<text x="199.6" y="1247.4" font-family="'Liberation Sans',Arial,sans-serif" font-size="42" textLength="46.7" lengthAdjust="spacingAndGlyphs" fill="#1a1a1a">40</text>
<line x1="263.6" y1="1172.1" x2="283" y2="1172.1" stroke="#111" stroke-width="4"/>
<text x="199.6" y="1187.1" font-family="'Liberation Sans',Arial,sans-serif" font-size="42" textLength="46.7" lengthAdjust="spacingAndGlyphs" fill="#1a1a1a">50</text>
<line x1="263.6" y1="1111.8" x2="283" y2="1111.8" stroke="#111" stroke-width="4"/>
<text x="199.6" y="1126.8" font-family="'Liberation Sans',Arial,sans-serif" font-size="42" textLength="46.7" lengthAdjust="spacingAndGlyphs" fill="#1a1a1a">60</text>
<line x1="263.6" y1="1051.5" x2="283" y2="1051.5" stroke="#111" stroke-width="4"/>
<text x="199.6" y="1066.5" font-family="'Liberation Sans',Arial,sans-serif" font-size="42" textLength="46.7" lengthAdjust="spacingAndGlyphs" fill="#1a1a1a">70</text>
<line x1="263.6" y1="991.2" x2="283" y2="991.2" stroke="#111" stroke-width="4"/>
<text x="199.6" y="1006.2" font-family="'Liberation Sans',Arial,sans-serif" font-size="42" textLength="46.7" lengthAdjust="spacingAndGlyphs" fill="#1a1a1a">80</text>
<line x1="263.6" y1="930.9" x2="283" y2="930.9" stroke="#111" stroke-width="4"/>
<text x="199.6" y="945.9" font-family="'Liberation Sans',Arial,sans-serif" font-size="42" textLength="46.7" lengthAdjust="spacingAndGlyphs" fill="#1a1a1a">90</text>
<line x1="263.6" y1="870.6" x2="283" y2="870.6" stroke="#111" stroke-width="4"/>
<text x="176.5" y="885.6" font-family="'Liberation Sans',Arial,sans-serif" font-size="42" textLength="70.1" lengthAdjust="spacingAndGlyphs" fill="#1a1a1a">100</text>
<line x1="264.2" y1="1474" x2="264.2" y2="1491.5" stroke="#111" stroke-width="4"/>
<text x="252.4" y="1534" font-family="'Liberation Sans',Arial,sans-serif" font-size="42" textLength="23.4" lengthAdjust="spacingAndGlyphs" fill="#1a1a1a">0</text>
<line x1="359.5" y1="1474" x2="359.5" y2="1491.5" stroke="#111" stroke-width="4"/>
<text x="348" y="1534" font-family="'Liberation Sans',Arial,sans-serif" font-size="42" textLength="23.4" lengthAdjust="spacingAndGlyphs" fill="#1a1a1a">5</text>
<line x1="454.9" y1="1474" x2="454.9" y2="1491.5" stroke="#111" stroke-width="4"/>
<text x="430.5" y="1534" font-family="'Liberation Sans',Arial,sans-serif" font-size="42" textLength="46.7" lengthAdjust="spacingAndGlyphs" fill="#1a1a1a">10</text>
<line x1="550.2" y1="1474" x2="550.2" y2="1491.5" stroke="#111" stroke-width="4"/>
<text x="526" y="1534" font-family="'Liberation Sans',Arial,sans-serif" font-size="42" textLength="46.7" lengthAdjust="spacingAndGlyphs" fill="#1a1a1a">15</text>
<line x1="645.5" y1="1474" x2="645.5" y2="1491.5" stroke="#111" stroke-width="4"/>
<text x="621.8" y="1534" font-family="'Liberation Sans',Arial,sans-serif" font-size="42" textLength="46.7" lengthAdjust="spacingAndGlyphs" fill="#1a1a1a">20</text>
<line x1="740.8" y1="1474" x2="740.8" y2="1491.5" stroke="#111" stroke-width="4"/>
<text x="717.3" y="1534" font-family="'Liberation Sans',Arial,sans-serif" font-size="42" textLength="46.7" lengthAdjust="spacingAndGlyphs" fill="#1a1a1a">25</text>
<line x1="836.2" y1="1474" x2="836.2" y2="1491.5" stroke="#111" stroke-width="4"/>
<text x="812.6" y="1534" font-family="'Liberation Sans',Arial,sans-serif" font-size="42" textLength="46.7" lengthAdjust="spacingAndGlyphs" fill="#1a1a1a">30</text>
<line x1="931.5" y1="1474" x2="931.5" y2="1491.5" stroke="#111" stroke-width="4"/>
<text x="908.2" y="1534" font-family="'Liberation Sans',Arial,sans-serif" font-size="42" textLength="46.7" lengthAdjust="spacingAndGlyphs" fill="#1a1a1a">35</text>
<line x1="1026.8" y1="1474" x2="1026.8" y2="1491.5" stroke="#111" stroke-width="4"/>
<text x="1003.7" y="1534" font-family="'Liberation Sans',Arial,sans-serif" font-size="42" textLength="46.7" lengthAdjust="spacingAndGlyphs" fill="#1a1a1a">40</text>
<line x1="1122.1" y1="1474" x2="1122.1" y2="1491.5" stroke="#111" stroke-width="4"/>
<text x="1099.2" y="1534" font-family="'Liberation Sans',Arial,sans-serif" font-size="42" textLength="46.7" lengthAdjust="spacingAndGlyphs" fill="#1a1a1a">45</text>
<line x1="1217.5" y1="1474" x2="1217.5" y2="1491.5" stroke="#111" stroke-width="4"/>
<text x="1193.9" y="1534" font-family="'Liberation Sans',Arial,sans-serif" font-size="42" textLength="46.7" lengthAdjust="spacingAndGlyphs" fill="#1a1a1a">50</text>
<line x1="1312.8" y1="1474" x2="1312.8" y2="1491.5" stroke="#111" stroke-width="4"/>
<text x="1289.5" y="1534" font-family="'Liberation Sans',Arial,sans-serif" font-size="42" textLength="46.7" lengthAdjust="spacingAndGlyphs" fill="#1a1a1a">55</text>
<line x1="1408.1" y1="1474" x2="1408.1" y2="1491.5" stroke="#111" stroke-width="4"/>
<text x="1384.4" y="1534" font-family="'Liberation Sans',Arial,sans-serif" font-size="42" textLength="46.7" lengthAdjust="spacingAndGlyphs" fill="#1a1a1a">60</text>
<line x1="1503.4" y1="1474" x2="1503.4" y2="1491.5" stroke="#111" stroke-width="4"/>
<text x="1479.9" y="1534" font-family="'Liberation Sans',Arial,sans-serif" font-size="42" textLength="46.7" lengthAdjust="spacingAndGlyphs" fill="#1a1a1a">65</text>
<line x1="1598.8" y1="1474" x2="1598.8" y2="1491.5" stroke="#111" stroke-width="4"/>
<text x="1575" y="1534" font-family="'Liberation Sans',Arial,sans-serif" font-size="42" textLength="46.7" lengthAdjust="spacingAndGlyphs" fill="#1a1a1a">70</text>
<line x1="1694.1" y1="1474" x2="1694.1" y2="1491.5" stroke="#111" stroke-width="4"/>
<text x="1670.6" y="1534" font-family="'Liberation Sans',Arial,sans-serif" font-size="42" textLength="46.7" lengthAdjust="spacingAndGlyphs" fill="#1a1a1a">75</text>
<line x1="1789.4" y1="1474" x2="1789.4" y2="1491.5" stroke="#111" stroke-width="4"/>
<text x="1765.9" y="1534" font-family="'Liberation Sans',Arial,sans-serif" font-size="42" textLength="46.7" lengthAdjust="spacingAndGlyphs" fill="#1a1a1a">80</text>
<line x1="1884.7" y1="1474" x2="1884.7" y2="1491.5" stroke="#111" stroke-width="4"/>
<text x="1861.4" y="1534" font-family="'Liberation Sans',Arial,sans-serif" font-size="42" textLength="46.7" lengthAdjust="spacingAndGlyphs" fill="#1a1a1a">85</text>
<line x1="1980.1" y1="1474" x2="1980.1" y2="1491.5" stroke="#111" stroke-width="4"/>
<text x="1956.3" y="1534" font-family="'Liberation Sans',Arial,sans-serif" font-size="42" textLength="46.7" lengthAdjust="spacingAndGlyphs" fill="#1a1a1a">90</text>
<line x1="2075.4" y1="1474" x2="2075.4" y2="1491.5" stroke="#111" stroke-width="4"/>
<text x="2051.9" y="1534" font-family="'Liberation Sans',Arial,sans-serif" font-size="42" textLength="46.7" lengthAdjust="spacingAndGlyphs" fill="#1a1a1a">95</text>
<line x1="2170.7" y1="1474" x2="2170.7" y2="1491.5" stroke="#111" stroke-width="4"/>
<text x="2134.8" y="1534" font-family="'Liberation Sans',Arial,sans-serif" font-size="42" textLength="70.1" lengthAdjust="spacingAndGlyphs" fill="#1a1a1a">100</text>
<text x="2180.2" y="1488.9" font-family="'Liberation Sans',Arial,sans-serif" font-size="42" textLength="60" lengthAdjust="spacingAndGlyphs" fill="#1414ff">0.0</text>
<line x1="2152.5" y1="1413.8" x2="2172" y2="1413.8" stroke="#1414ff" stroke-width="4"/>
<text x="2180.2" y="1428.5" font-family="'Liberation Sans',Arial,sans-serif" font-size="42" textLength="60.4" lengthAdjust="spacingAndGlyphs" fill="#1414ff">0.1</text>
<line x1="2152.5" y1="1353.4" x2="2172" y2="1353.4" stroke="#1414ff" stroke-width="4"/>
<text x="2180.2" y="1368.2" font-family="'Liberation Sans',Arial,sans-serif" font-size="42" textLength="60.4" lengthAdjust="spacingAndGlyphs" fill="#1414ff">0.2</text>
<line x1="2152.5" y1="1293" x2="2172" y2="1293" stroke="#1414ff" stroke-width="4"/>
<text x="2180.2" y="1307.8" font-family="'Liberation Sans',Arial,sans-serif" font-size="42" textLength="60.4" lengthAdjust="spacingAndGlyphs" fill="#1414ff">0.3</text>
<line x1="2152.5" y1="1232.7" x2="2172" y2="1232.7" stroke="#1414ff" stroke-width="4"/>
<text x="2180.2" y="1247.5" font-family="'Liberation Sans',Arial,sans-serif" font-size="42" textLength="59.5" lengthAdjust="spacingAndGlyphs" fill="#1414ff">0.4</text>
<line x1="2152.5" y1="1172.3" x2="2172" y2="1172.3" stroke="#1414ff" stroke-width="4"/>
<text x="2180.2" y="1187.1" font-family="'Liberation Sans',Arial,sans-serif" font-size="42" textLength="60.4" lengthAdjust="spacingAndGlyphs" fill="#1414ff">0.5</text>
<line x1="2152.5" y1="1112" x2="2172" y2="1112" stroke="#1414ff" stroke-width="4"/>
<text x="2180.2" y="1126.8" font-family="'Liberation Sans',Arial,sans-serif" font-size="42" textLength="60.4" lengthAdjust="spacingAndGlyphs" fill="#1414ff">0.6</text>
<line x1="2152.5" y1="1051.6" x2="2172" y2="1051.6" stroke="#1414ff" stroke-width="4"/>
<text x="2180.2" y="1066.4" font-family="'Liberation Sans',Arial,sans-serif" font-size="42" textLength="60.4" lengthAdjust="spacingAndGlyphs" fill="#1414ff">0.7</text>
<line x1="2152.5" y1="991.3" x2="2172" y2="991.3" stroke="#1414ff" stroke-width="4"/>
<text x="2180.2" y="1006.1" font-family="'Liberation Sans',Arial,sans-serif" font-size="42" textLength="60.4" lengthAdjust="spacingAndGlyphs" fill="#1414ff">0.8</text>
<line x1="2152.5" y1="930.9" x2="2172" y2="930.9" stroke="#1414ff" stroke-width="4"/>
<text x="2180.2" y="945.7" font-family="'Liberation Sans',Arial,sans-serif" font-size="42" textLength="60.4" lengthAdjust="spacingAndGlyphs" fill="#1414ff">0.9</text>
<line x1="2152.5" y1="870.6" x2="2172" y2="870.6" stroke="#1414ff" stroke-width="4"/>
<text x="2178.3" y="885.4" font-family="'Liberation Sans',Arial,sans-serif" font-size="42" textLength="61.8" lengthAdjust="spacingAndGlyphs" fill="#1414ff">1.0</text>
<text x="1098.4" y="1585" font-family="'Liberation Sans',Arial,sans-serif" font-size="40" font-weight="bold" textLength="239" lengthAdjust="spacingAndGlyphs" fill="#111">TOS (Hours)</text>
<text transform="translate(164,1332.3) rotate(-90)" x="0" y="0" font-family="'Liberation Sans',Arial,sans-serif" font-size="41" font-weight="bold" textLength="306.9" lengthAdjust="spacingAndGlyphs" fill="#111">Conversion (%)</text>
<text transform="translate(2283,1144.6) rotate(-90)" x="0" y="0" text-anchor="middle" font-family="'Liberation Sans',Arial,sans-serif" font-size="45" font-weight="bold" textLength="118" lengthAdjust="spacingAndGlyphs" fill="#1414ff">H<tspan font-size="27" dy="16">2</tspan><tspan dy="-16">/CO</tspan></text>
<text x="347.7" y="989.3" font-family="'Liberation Sans',Arial,sans-serif" font-size="40" textLength="307" lengthAdjust="spacingAndGlyphs" fill="#1a1a1a">CO<tspan font-size="23" dy="15">2</tspan><tspan dy="-15"> Conversion</tspan></text>
<text x="350.2" y="1258.4" font-family="'Liberation Sans',Arial,sans-serif" font-size="40" textLength="303" lengthAdjust="spacingAndGlyphs" fill="#1a1a1a">CH<tspan font-size="23" dy="15">4</tspan><tspan dy="-15"> Conversion</tspan></text>
<line x1="1681.4" y1="847.8" x2="1780" y2="847.8" stroke="#1414ff" stroke-width="3.6"/>
<text x="1792.7" y="862.2" font-family="'Liberation Sans',Arial,sans-serif" font-size="40" font-weight="bold" textLength="114" lengthAdjust="spacingAndGlyphs" fill="#1414ff">H<tspan font-size="26" dy="14">2</tspan><tspan dy="-14">/CO</tspan></text>
<line x1="1084.4" y1="1278.6" x2="1183.3" y2="1278.6" stroke="#ff1e1e" stroke-width="3.2"/>
<line x1="1084.4" y1="1344.8" x2="1183.3" y2="1344.8" stroke="#222" stroke-width="3.2"/>
<text x="1193.9" y="1294" font-family="'Liberation Sans',Arial,sans-serif" font-size="40" font-weight="bold" textLength="298" lengthAdjust="spacingAndGlyphs" fill="#ff1e1e">Gd.Ni/Mg<tspan font-size="23" dy="17">1.3</tspan><tspan dy="-17">AlO</tspan><tspan font-size="23" dy="17">x</tspan></text>
<text x="1193.9" y="1360.2" font-family="'Liberation Sans',Arial,sans-serif" font-size="40" font-weight="bold" textLength="290.5" lengthAdjust="spacingAndGlyphs" fill="#111">Sc.Ni/Mg<tspan font-size="23" dy="17">1.3</tspan><tspan dy="-17">AlO</tspan><tspan font-size="23" dy="17">x</tspan></text>
<path d="M265.2,910 L272.5,915.2 L284.2,917.3 L292.9,924.6 L301.6,922.5 L383.3,924 L470.8,924.6 L529.1,927.5 L616.6,937.7 L650,935.7 L707.3,932.5 L793.2,938 L888.6,941.1 L984.1,941.1 L1063.6,946.5 L1143.2,951.6 L1175,952.3 L1250,950 L1335.4,955.9 L1430.9,959.1 L1558.2,960.7 L1701.3,964.8 L1790.4,978.2 L1840,978.2 L1965.4,977.5 L2048.1,980.3 L2103.3,986.6 L2152.9,990.7 L2161.2,981.1" fill="none" stroke="#2a2a2a" stroke-width="2.8" stroke-linejoin="round" stroke-linecap="round"/>
<path d="M265.2,897.8 L274.2,904.4 L283.2,905.8 L292.2,905.1 L301.2,905.9 L310.2,905.5 L319.2,906.1 L328.2,908.5 L337.2,908.1 L346.2,908.8 L355.2,911.1 L364.2,911 L373.2,912.6 L382.2,912.8 L391.2,914 L400.2,912.1 L409.2,907 L418.2,911.5 L427.2,912 L436.2,911.9 L445.2,911.2 L454.2,909.5 L463.2,910.4 L472.2,909.9 L481.2,911.5 L490.2,913.1 L499.2,916.9 L508.2,915.8 L517.2,915.7 L526.2,915.4 L535.2,916.6 L544.2,919.7 L553.2,921.4 L562.2,922.9 L571.2,920.4 L580.2,919.6 L589.2,918.4 L598.2,918.6 L607.2,920.4 L616.2,922.3 L625.2,925.5 L634.2,923 L643.2,921.9 L652.2,919.8 L661.2,920.5 L670.2,920.4 L679.2,920.6 L688.2,921.3 L697.2,924.2 L706.2,925.9 L715.2,925.4 L724.2,925.8 L733.2,925.5 L742.2,925.7 L751.2,925 L760.2,923.8 L769.2,925.1 L778.2,925.4 L787.2,926.7 L796.2,927.5 L805.2,928.2 L814.2,924.9 L823.2,926 L832.2,925.5 L841.2,925.1 L850.2,924.7 L859.2,926.4 L868.2,926.8 L877.2,925.1 L886.2,926.6 L895.2,925.9 L904.2,925.5 L913.2,927 L922.2,929.2 L931.2,930.6 L940.2,929.2 L949.2,929.3 L958.2,927.1 L967.2,927.4 L976.2,930.5 L985.2,936.1 L994.2,932.7 L1003.2,933.9 L1012.2,934.7 L1021.2,933.2 L1030.2,934.5 L1039.2,936.1 L1048.2,935.3 L1057.2,935.9 L1066.2,936.6 L1075.2,937.3 L1084.2,936.7 L1093.2,936.7 L1102.2,938.6 L1111.2,941.7 L1120.2,942.3 L1129.2,940.8 L1138.2,940.7 L1147.2,944.1 L1156.2,946.5 L1165.2,946.8 L1174.2,946.7 L1183.2,945.2 L1192.2,943.8 L1201.2,942.9 L1210.2,940.5 L1219.2,938.8 L1228.2,940.3 L1237.2,940.2 L1246.2,941.3 L1255.2,943.2 L1264.2,942.6 L1273.2,942.9 L1282.2,942.1 L1291.2,943 L1300.2,943.3 L1309.2,942.1 L1318.2,943.2 L1327.2,943.2 L1336.2,942 L1345.2,943.1 L1354.2,942.7 L1363.2,943.1 L1372.2,942.4 L1381.2,943.1 L1390.2,943.1 L1399.2,941.6 L1408.2,942.2 L1417.2,945.4 L1426.2,947.9 L1435.2,947.5 L1444.2,947.9 L1453.2,949.9 L1462.2,954.2 L1471.2,955.7 L1480.2,954.5 L1489.2,951.2 L1498.2,950.2 L1507.2,951 L1516.2,952.5 L1525.2,954.7 L1534.2,951.5 L1543.2,952.2 L1552.2,955.4 L1561.2,953 L1570.2,951.2 L1579.2,952.9 L1588.2,953.9 L1597.2,955.9 L1606.2,958.3 L1615.2,957.8 L1624.2,955.6 L1633.2,955.6 L1642.2,955.8 L1651.2,956.9 L1660.2,956.2 L1669.2,957.2 L1678.2,956.5 L1687.2,957.6 L1696.2,959 L1705.2,962.2 L1714.2,963.8 L1723.2,960.7 L1732.2,957.9 L1741.2,958.8 L1750.2,960.4 L1759.2,963.9 L1768.2,961.9 L1777.2,958.3 L1786.2,960.1 L1795.2,962.6 L1804.2,962.5 L1813.2,962.6 L1822.2,961.6 L1831.2,961 L1840.2,961.2 L1849.2,961.6 L1858.2,959.9 L1867.2,959.4 L1876.2,959.9 L1885.2,960.5 L1894.2,961.6 L1903.2,964.7 L1912.2,965.2 L1921.2,967 L1930.2,971 L1939.2,971.7 L1948.2,972.2 L1957.2,971.5 L1966.2,973.2 L1975.2,976.8 L1984.2,977.3 L1993.2,979 L2002.2,976.1 L2011.2,972 L2020.2,972.8 L2029.2,972.4 L2038.2,972.6 L2047.2,972.4 L2056.2,972.2 L2065.2,973.3 L2074.2,972.8 L2083.2,973.9 L2092.2,972.4 L2101.2,974.2 L2110.2,975.5 L2119.2,980 L2128.2,981.1 L2135,973.9" fill="none" stroke="#ff1e1e" stroke-width="2.8" stroke-linejoin="round" stroke-linecap="round"/>
<path d="M264.3,1179.8 L275.5,1184.5 L281,1182.5 L291.4,1186.1 L409,1190.9 L568.2,1198.9 L727.2,1203 L850,1206.2 L1015,1211.2 L1189.9,1217.2 L1364.8,1220.7 L1480,1223 L1670.9,1228.7 L1861.8,1230.6 L1892.4,1232.5 L1968.7,1239.4 L2090.9,1241.3 L2159.6,1240.9" fill="none" stroke="#2a2a2a" stroke-width="2.8" stroke-linejoin="round" stroke-linecap="round"/>
<path d="M264.3,1170.5 L273.3,1174.2 L282.3,1175.4 L291.3,1176 L300.3,1175.8 L309.3,1176.8 L318.3,1175 L327.3,1176.7 L336.3,1178.5 L345.3,1178.2 L354.3,1179.4 L363.3,1177.9 L372.3,1179.4 L381.3,1179.3 L390.3,1180.6 L399.3,1181.2 L408.3,1180.1 L417.3,1181.1 L426.3,1181.6 L435.3,1183.7 L444.3,1183.7 L453.3,1182.6 L462.3,1184.6 L471.3,1183.3 L480.3,1185 L489.3,1184.1 L498.3,1184.2 L507.3,1186.9 L516.3,1185.6 L525.3,1186 L534.3,1188.4 L543.3,1188.5 L552.3,1186.9 L561.3,1188.3 L570.3,1186.9 L579.3,1186.9 L588.3,1185.4 L597.3,1186.9 L606.3,1185.9 L615.3,1186.3 L624.3,1185.8 L633.3,1184.1 L642.3,1184.8 L651.3,1184.8 L660.3,1185.3 L669.3,1185.6 L678.3,1186.8 L687.3,1188.1 L696.3,1187.1 L705.3,1189.4 L714.3,1189.1 L723.3,1189.6 L732.3,1191.2 L741.3,1190.4 L750.3,1190 L759.3,1190.6 L768.3,1191.2 L777.3,1189.6 L786.3,1192.1 L795.3,1189.7 L804.3,1191.7 L813.3,1192 L822.3,1190 L831.3,1192.1 L840.3,1191.1 L849.3,1191.7 L858.3,1190.6 L867.3,1191 L876.3,1191.8 L885.3,1194.2 L894.3,1192.6 L903.3,1194.4 L912.3,1195.2 L921.3,1195.7 L930.3,1194.5 L939.3,1194.9 L948.3,1195.5 L957.3,1196.1 L966.3,1194.3 L975.3,1195.9 L984.3,1195.9 L993.3,1196 L1002.3,1193.8 L1011.3,1196.1 L1020.3,1193.8 L1029.3,1194.5 L1038.3,1195.4 L1047.3,1196.4 L1056.3,1195.1 L1065.3,1196.8 L1074.3,1196 L1083.3,1195.5 L1092.3,1195.8 L1101.3,1197.9 L1110.3,1200 L1119.3,1200.6 L1128.3,1201.7 L1137.3,1202.2 L1146.3,1199.7 L1155.3,1199 L1164.3,1201.1 L1173.3,1200 L1182.3,1200 L1191.3,1199.9 L1200.3,1201.2 L1209.3,1202.1 L1218.3,1201.5 L1227.3,1201.7 L1236.3,1201.1 L1245.3,1203.7 L1254.3,1201.8 L1263.3,1203.3 L1272.3,1204.5 L1281.3,1203 L1290.3,1204.8 L1299.3,1205.7 L1308.3,1205.2 L1317.3,1205.9 L1326.3,1204.4 L1335.3,1205.5 L1344.3,1205.1 L1353.3,1207.2 L1362.3,1206.1 L1371.3,1207 L1380.3,1209 L1389.3,1209.1 L1398.3,1210 L1407.3,1209.2 L1416.3,1209.9 L1425.3,1211.1 L1434.3,1211 L1443.3,1211 L1452.3,1211.9 L1461.3,1211.8 L1470.3,1211.9 L1479.3,1211.8 L1488.3,1212.2 L1497.3,1212 L1506.3,1212.4 L1515.3,1211.6 L1524.3,1209.8 L1533.3,1209 L1542.3,1212.1 L1551.3,1214.1 L1560.3,1211.9 L1569.3,1212.9 L1578.3,1215.8 L1587.3,1215.9 L1596.3,1215.8 L1605.3,1216.1 L1614.3,1215 L1623.3,1215.9 L1632.3,1214.8 L1641.3,1215.4 L1650.3,1216.1 L1659.3,1216.2 L1668.3,1215.5 L1677.3,1217.6 L1686.3,1217.2 L1695.3,1217.3 L1704.3,1216.2 L1713.3,1218 L1722.3,1217.6 L1731.3,1219 L1740.3,1218.8 L1749.3,1220 L1758.3,1219.7 L1767.3,1220.1 L1776.3,1219.1 L1785.3,1219.9 L1794.3,1220.2 L1803.3,1220.5 L1812.3,1219.4 L1821.3,1220.7 L1830.3,1220.9 L1839.3,1220.5 L1848.3,1221.3 L1857.3,1221.3 L1866.3,1220.3 L1875.3,1220.4 L1884.3,1222.9 L1893.3,1226.6 L1902.3,1224.3 L1911.3,1223.5 L1920.3,1224.5 L1929.3,1225 L1938.3,1225.5 L1947.3,1224.5 L1956.3,1226.5 L1965.3,1226.5 L1974.3,1227.1 L1983.3,1226.5 L1992.3,1226.9 L2001.3,1227.1 L2010.3,1226.6 L2019.3,1226.6 L2028.3,1224.7 L2037.3,1224.9 L2046.3,1226.9 L2055.3,1229.1 L2064.3,1228.2 L2073.3,1229.6 L2082.3,1229.7 L2091.3,1228.2 L2100.3,1227.8 L2109.3,1226.4 L2118.3,1227 L2127.3,1228.3 L2132.9,1229.9" fill="none" stroke="#ff1e1e" stroke-width="2.8" stroke-linejoin="round" stroke-linecap="round"/>
<path d="M265.2,918.2 L272.2,892.4 L279.2,889.6 L286.2,888.7 L293.2,889.9 L300.2,894.1 L307.2,894 L314.2,895.1 L321.2,893.6 L328.2,894.5 L335.2,893.3 L342.2,893.2 L349.2,893.9 L356.2,894.8 L363.2,892.6 L370.2,892.6 L377.2,893.5 L384.2,894.4 L391.2,893.7 L398.2,893.4 L405.2,895.3 L412.2,893 L419.2,895.5 L426.2,894.2 L433.2,894.1 L440.2,894.3 L447.2,895.1 L454.2,896.9 L461.2,895.5 L468.2,897 L475.2,897.5 L482.2,897.1 L489.2,897.9 L496.2,896.9 L503.2,897.3 L510.2,898 L517.2,899.7 L524.2,899.4 L531.2,899.3 L538.2,900.2 L545.2,899.9 L552.2,899.6 L559.2,901.1 L566.2,901 L573.2,899.8 L580.2,900.8 L587.2,900.8 L594.2,901.9 L601.2,901.6 L608.2,900.5 L615.2,902.5 L622.2,899.9 L629.2,900.4 L636.2,901.1 L643.2,899.1 L650.2,899.8 L657.2,898.4 L664.2,900 L671.2,900.2 L678.2,899.6 L685.2,900.3 L692.2,898.6 L699.2,899.6 L706.2,899.1 L713.2,898.8 L720.2,898.2 L727.2,899.8 L734.2,901.3 L741.2,901 L748.2,901.9 L755.2,900.6 L762.2,902.8 L769.2,903 L776.2,904.3 L783.2,902.9 L790.2,900.2 L797.2,899.6 L804.2,901.3 L811.2,900.5 L818.2,902.6 L825.2,902.4 L832.2,902.7 L839.2,902.9 L846.2,905.3 L853.2,903.9 L860.2,904.2 L867.2,903.9 L874.2,904.6 L881.2,901.8 L888.2,902.5 L895.2,902.5 L902.2,903.2 L909.2,903.4 L916.2,904.4 L923.2,903.6 L930.2,904.8 L937.2,904.7 L944.2,906.3 L951.2,906.6 L958.2,904.5 L965.2,904.6 L972.2,904.9 L979.2,905 L986.2,905.8 L993.2,906.2 L1000.2,905.4 L1007.2,904.6 L1014.2,905.7 L1021.2,905.5 L1028.2,906 L1035.2,907 L1042.2,906.2 L1049.2,905.6 L1056.2,905.8 L1063.2,905.9 L1070.2,904.1 L1077.2,906.3 L1084.2,906.2 L1091.2,906.7 L1098.2,906.8 L1105.2,905.9 L1112.2,906.2 L1119.2,905.7 L1126.2,907.5 L1133.2,906.1 L1140.2,906.4 L1147.2,907.1 L1154.2,907.3 L1161.2,908 L1168.2,907.4 L1175.2,907.4 L1182.2,908.1 L1189.2,908.1 L1196.2,909 L1203.2,908.3 L1210.2,910.9 L1217.2,910.3 L1224.2,909.2 L1231.2,909.7 L1238.2,910.1 L1245.2,910.4 L1252.2,909.8 L1259.2,911.6 L1266.2,911.8 L1273.2,910.1 L1280.2,909.9 L1287.2,909.1 L1294.2,910.2 L1301.2,911.9 L1308.2,912.8 L1315.2,915.5 L1322.2,914 L1329.2,912.8 L1336.2,914.6 L1343.2,912.6 L1350.2,911.1 L1357.2,912.4 L1364.2,911.2 L1371.2,912.8 L1378.2,914.3 L1385.2,913.8 L1392.2,913 L1399.2,911.5 L1406.2,911.5 L1413.2,910.7 L1420.2,912.6 L1427.2,913.4 L1434.2,915.6 L1441.2,915.8 L1448.2,917 L1455.2,920.1 L1462.2,922.1 L1469.2,922.5 L1476.2,922.4 L1483.2,922.4 L1490.2,922.2 L1497.2,920.7 L1504.2,921.3 L1511.2,920.4 L1518.2,919 L1525.2,918.5 L1532.2,918.7 L1539.2,919.7 L1546.2,922.1 L1553.2,924 L1560.2,923.4 L1567.2,925 L1574.2,925.4 L1581.2,925.6 L1588.2,924.2 L1595.2,924 L1602.2,924.3 L1609.2,924.6 L1616.2,925 L1623.2,926.6 L1630.2,927.7 L1637.2,927.9 L1644.2,927.2 L1651.2,927.1 L1658.2,927 L1665.2,924.4 L1672.2,925.4 L1679.2,925.5 L1686.2,924.6 L1693.2,923.9 L1700.2,922.5 L1707.2,922.4 L1714.2,925 L1721.2,924.6 L1728.2,926.8 L1735.2,927.9 L1742.2,926.3 L1749.2,926.3 L1756.2,927.8 L1763.2,927.2 L1770.2,925.6 L1777.2,925.5 L1784.2,925.5 L1791.2,927.6 L1798.2,927.4 L1805.2,925.8 L1812.2,928.2 L1819.2,929.1 L1826.2,928.6 L1833.2,928.2 L1840.2,929.2 L1847.2,928.5 L1854.2,928.6 L1861.2,931.8 L1868.2,930.8 L1875.2,930.2 L1882.2,931 L1889.2,929.3 L1896.2,930.2 L1903.2,929.9 L1910.2,928.3 L1917.2,928.4 L1924.2,928.6 L1931.2,928.5 L1938.2,929.6 L1945.2,930.4 L1952.2,932.4 L1959.2,931.7 L1966.2,933.9 L1973.2,932.4 L1980.2,932.8 L1987.2,933.2 L1994.2,934.2 L2001.2,933 L2008.2,934.4 L2015.2,933.3 L2022.2,933.5 L2029.2,933.7 L2036.2,932.4 L2043.2,933.8 L2050.2,933.3 L2057.2,932.9 L2064.2,935.3 L2071.2,933.8 L2078.2,934.7 L2085.2,935.3 L2092.2,934.8 L2099.2,934.1 L2106.2,934.5 L2113.2,934.5 L2120.2,935.1 L2127.2,933.1 L2134.2,934.3 L2141.2,933.2 L2148.2,933.1 L2155.2,934.3 L2162.2,936.4 L2163,937" fill="none" stroke="#1414ff" stroke-width="3.6" stroke-linejoin="round" stroke-linecap="round"/>
<text x="34" y="1685" font-family="'Liberation Serif','Times New Roman',serif" font-size="88.4" textLength="103.1" lengthAdjust="spacingAndGlyphs" fill="#000">(d)</text>
<rect x="265.8" y="1674.2" width="940.6" height="589.6" fill="none" stroke="#222" stroke-width="3.4"/>
<line x1="250.8" y1="2263.7" x2="265.8" y2="2263.7" stroke="#222" stroke-width="3.4"/>
<text x="202.8" y="2274.7" font-family="'Liberation Serif','Times New Roman',serif" font-size="33" textLength="39.6" lengthAdjust="spacingAndGlyphs" fill="#1e1e1e" stroke="#1e1e1e" stroke-width="0.6">20</text>
<line x1="258.3" y1="2230.9" x2="265.8" y2="2230.9" stroke="#222" stroke-width="3.4"/>
<line x1="250.8" y1="2198.1" x2="265.8" y2="2198.1" stroke="#222" stroke-width="3.4"/>
<text x="202.8" y="2209.1" font-family="'Liberation Serif','Times New Roman',serif" font-size="33" textLength="39.6" lengthAdjust="spacingAndGlyphs" fill="#1e1e1e" stroke="#1e1e1e" stroke-width="0.6">30</text>
<line x1="258.3" y1="2165.3" x2="265.8" y2="2165.3" stroke="#222" stroke-width="3.4"/>
<line x1="250.8" y1="2132.6" x2="265.8" y2="2132.6" stroke="#222" stroke-width="3.4"/>
<text x="202.8" y="2143.6" font-family="'Liberation Serif','Times New Roman',serif" font-size="33" textLength="39.6" lengthAdjust="spacingAndGlyphs" fill="#1e1e1e" stroke="#1e1e1e" stroke-width="0.6">40</text>
<line x1="258.3" y1="2099.8" x2="265.8" y2="2099.8" stroke="#222" stroke-width="3.4"/>
<line x1="250.8" y1="2067" x2="265.8" y2="2067" stroke="#222" stroke-width="3.4"/>
<text x="202.8" y="2078" font-family="'Liberation Serif','Times New Roman',serif" font-size="33" textLength="39.6" lengthAdjust="spacingAndGlyphs" fill="#1e1e1e" stroke="#1e1e1e" stroke-width="0.6">50</text>
<line x1="258.3" y1="2034.3" x2="265.8" y2="2034.3" stroke="#222" stroke-width="3.4"/>
<line x1="250.8" y1="2001.5" x2="265.8" y2="2001.5" stroke="#222" stroke-width="3.4"/>
<text x="202.8" y="2012.5" font-family="'Liberation Serif','Times New Roman',serif" font-size="33" textLength="39.6" lengthAdjust="spacingAndGlyphs" fill="#1e1e1e" stroke="#1e1e1e" stroke-width="0.6">60</text>
<line x1="258.3" y1="1968.7" x2="265.8" y2="1968.7" stroke="#222" stroke-width="3.4"/>
<line x1="250.8" y1="1936" x2="265.8" y2="1936" stroke="#222" stroke-width="3.4"/>
<text x="202.8" y="1947" font-family="'Liberation Serif','Times New Roman',serif" font-size="33" textLength="39.6" lengthAdjust="spacingAndGlyphs" fill="#1e1e1e" stroke="#1e1e1e" stroke-width="0.6">70</text>
<line x1="258.3" y1="1903.2" x2="265.8" y2="1903.2" stroke="#222" stroke-width="3.4"/>
<line x1="250.8" y1="1870.4" x2="265.8" y2="1870.4" stroke="#222" stroke-width="3.4"/>
<text x="202.8" y="1881.4" font-family="'Liberation Serif','Times New Roman',serif" font-size="33" textLength="39.6" lengthAdjust="spacingAndGlyphs" fill="#1e1e1e" stroke="#1e1e1e" stroke-width="0.6">80</text>
<line x1="258.3" y1="1837.6" x2="265.8" y2="1837.6" stroke="#222" stroke-width="3.4"/>
<line x1="250.8" y1="1804.9" x2="265.8" y2="1804.9" stroke="#222" stroke-width="3.4"/>
<text x="202.8" y="1815.9" font-family="'Liberation Serif','Times New Roman',serif" font-size="33" textLength="39.6" lengthAdjust="spacingAndGlyphs" fill="#1e1e1e" stroke="#1e1e1e" stroke-width="0.6">90</text>
<line x1="258.3" y1="1772.1" x2="265.8" y2="1772.1" stroke="#222" stroke-width="3.4"/>
<line x1="250.8" y1="1739.3" x2="265.8" y2="1739.3" stroke="#222" stroke-width="3.4"/>
<text x="183" y="1750.3" font-family="'Liberation Serif','Times New Roman',serif" font-size="33" textLength="59.4" lengthAdjust="spacingAndGlyphs" fill="#1e1e1e" stroke="#1e1e1e" stroke-width="0.6">100</text>
<line x1="258.3" y1="1706.6" x2="265.8" y2="1706.6" stroke="#222" stroke-width="3.4"/>
<line x1="250.8" y1="1673.8" x2="265.8" y2="1673.8" stroke="#222" stroke-width="3.4"/>
<text x="184.6" y="1684.8" font-family="'Liberation Serif','Times New Roman',serif" font-size="33" textLength="57.9" lengthAdjust="spacingAndGlyphs" fill="#1e1e1e" stroke="#1e1e1e" stroke-width="0.6">110</text>
<line x1="265.4" y1="2263.8" x2="265.4" y2="2269.3" stroke="#222" stroke-width="3.6"/>
<line x1="343.9" y1="2263.8" x2="343.9" y2="2274.3" stroke="#222" stroke-width="3.6"/>
<text x="333.5" y="2307.3" font-family="'Liberation Serif','Times New Roman',serif" font-size="33.5" textLength="21.9" lengthAdjust="spacingAndGlyphs" fill="#1e1e1e" stroke="#1e1e1e" stroke-width="0.6">2</text>
<line x1="422.3" y1="2263.8" x2="422.3" y2="2269.3" stroke="#222" stroke-width="3.6"/>
<line x1="500.8" y1="2263.8" x2="500.8" y2="2274.3" stroke="#222" stroke-width="3.6"/>
<text x="490.1" y="2307.3" font-family="'Liberation Serif','Times New Roman',serif" font-size="33.5" textLength="21.3" lengthAdjust="spacingAndGlyphs" fill="#1e1e1e" stroke="#1e1e1e" stroke-width="0.6">3</text>
<line x1="579.2" y1="2263.8" x2="579.2" y2="2269.3" stroke="#222" stroke-width="3.6"/>
<line x1="657.7" y1="2263.8" x2="657.7" y2="2274.3" stroke="#222" stroke-width="3.6"/>
<text x="648.3" y="2307.3" font-family="'Liberation Serif','Times New Roman',serif" font-size="33.5" textLength="19" lengthAdjust="spacingAndGlyphs" fill="#1e1e1e" stroke="#1e1e1e" stroke-width="0.6">4</text>
<line x1="736.1" y1="2263.8" x2="736.1" y2="2269.3" stroke="#222" stroke-width="3.6"/>
<line x1="814.6" y1="2263.8" x2="814.6" y2="2274.3" stroke="#222" stroke-width="3.6"/>
<text x="803.4" y="2307.3" font-family="'Liberation Serif','Times New Roman',serif" font-size="33.5" textLength="21.9" lengthAdjust="spacingAndGlyphs" fill="#1e1e1e" stroke="#1e1e1e" stroke-width="0.6">5</text>
<line x1="893" y1="2263.8" x2="893" y2="2269.3" stroke="#222" stroke-width="3.6"/>
<line x1="971.5" y1="2263.8" x2="971.5" y2="2274.3" stroke="#222" stroke-width="3.6"/>
<text x="961.3" y="2307.3" font-family="'Liberation Serif','Times New Roman',serif" font-size="33.5" textLength="20.3" lengthAdjust="spacingAndGlyphs" fill="#1e1e1e" stroke="#1e1e1e" stroke-width="0.6">6</text>
<line x1="1050" y1="2263.8" x2="1050" y2="2269.3" stroke="#222" stroke-width="3.6"/>
<line x1="1128.4" y1="2263.8" x2="1128.4" y2="2274.3" stroke="#222" stroke-width="3.6"/>
<text x="1116.7" y="2307.3" font-family="'Liberation Serif','Times New Roman',serif" font-size="33.5" textLength="21.9" lengthAdjust="spacingAndGlyphs" fill="#1e1e1e" stroke="#1e1e1e" stroke-width="0.6">7</text>
<line x1="1206.8" y1="2263.8" x2="1206.8" y2="2269.3" stroke="#222" stroke-width="3.6"/>
<text x="643.7" y="2344" font-family="'Liberation Serif','Times New Roman',serif" font-size="33.5" textLength="139.2" lengthAdjust="spacingAndGlyphs" fill="#1e1e1e" stroke="#1e1e1e" stroke-width="0.6">Time (h)</text>
<text transform="translate(171.8,1972.4) rotate(-90)" x="0" y="0" text-anchor="middle" font-family="'Liberation Serif','Times New Roman',serif" font-size="37" textLength="612" lengthAdjust="spacingAndGlyphs" fill="#1e1e1e" stroke="#1e1e1e" stroke-width="0.4">CH<tspan font-size="22" dy="8">4</tspan><tspan dy="-8"> and CO</tspan><tspan font-size="22" dy="8">2</tspan><tspan dy="-8"> conversions, H</tspan><tspan font-size="22" dy="8">2</tspan><tspan dy="-8"> and CO yields (%)</tspan></text>
<path d="M343.9,1760.5 L500.8,1758.4 L657.7,1753.8 L814.6,1747.4 L971.5,1746.8 L1020.2,1746.8" fill="none" stroke="#8397c4" stroke-width="2.6" stroke-linejoin="round" stroke-linecap="round"/>
<path d="M343.9,1850.8 L500.8,1849.2 L657.7,1845.3 L814.6,1844.2 L971.5,1849.5 L1128.4,1852.6" fill="none" stroke="#de6a72" stroke-width="2.6" stroke-linejoin="round" stroke-linecap="round"/>
<path d="M343.9,2140.5 L500.8,2140 L657.7,2139.4 L814.6,2136.7 L971.5,2135.4 L1128.4,2136" fill="none" stroke="#9ad49a" stroke-width="2.6" stroke-linejoin="round" stroke-linecap="round"/>
<path d="M343.9,2175.2 L500.8,2173.7 L657.7,2173.1 L814.6,2173.7 L971.5,2175.1 L1128.4,2176.4" fill="none" stroke="#f3d677" stroke-width="2.6" stroke-linejoin="round" stroke-linecap="round"/>
<ellipse cx="344.9" cy="1760.5" rx="9.3" ry="6.8" fill="#2f4b91"/>
<ellipse cx="501.8" cy="1758.4" rx="9.3" ry="6.8" fill="#2f4b91"/>
<ellipse cx="658.7" cy="1753.8" rx="9.3" ry="6.8" fill="#2f4b91"/>
<ellipse cx="815.6" cy="1747.4" rx="9.3" ry="6.8" fill="#2f4b91"/>
<ellipse cx="972.5" cy="1746.8" rx="9.3" ry="6.8" fill="#2f4b91"/>
<path d="M344.5,1841.3 L347.3,1847.7 L354.5,1848.2 L349,1852.7 L350.7,1859.4 L344.5,1855.8 L338.3,1859.4 L340,1852.7 L334.5,1848.2 L341.7,1847.7 Z" fill="#c9141e"/>
<path d="M501.4,1839.7 L504.2,1846.1 L511.4,1846.6 L505.9,1851.1 L507.6,1857.8 L501.4,1854.2 L495.2,1857.8 L496.9,1851.1 L491.4,1846.6 L498.6,1846.1 Z" fill="#c9141e"/>
<path d="M658.3,1835.8 L661.1,1842.2 L668.3,1842.7 L662.8,1847.2 L664.5,1853.9 L658.3,1850.3 L652.1,1853.9 L653.8,1847.2 L648.3,1842.7 L655.5,1842.2 Z" fill="#c9141e"/>
<path d="M815.2,1834.7 L818,1841.1 L825.2,1841.6 L819.7,1846.1 L821.4,1852.8 L815.2,1849.2 L809,1852.8 L810.7,1846.1 L805.2,1841.6 L812.4,1841.1 Z" fill="#c9141e"/>
<path d="M972.1,1840 L974.9,1846.4 L982.1,1846.9 L976.6,1851.4 L978.3,1858.1 L972.1,1854.5 L965.9,1858.1 L967.6,1851.4 L962.1,1846.9 L969.3,1846.4 Z" fill="#c9141e"/>
<path d="M1129,1843.1 L1131.8,1849.5 L1139,1850 L1133.5,1854.5 L1135.2,1861.2 L1129,1857.6 L1122.8,1861.2 L1124.5,1854.5 L1119,1850 L1126.2,1849.5 Z" fill="#c9141e"/>
<path d="M334.9,2147.3 L345.4,2132.7 L355.9,2147.3 Z" fill="#58b658"/>
<path d="M491.8,2146.8 L502.3,2132.2 L512.8,2146.8 Z" fill="#58b658"/>
<path d="M648.7,2146.2 L659.2,2131.6 L669.7,2146.2 Z" fill="#58b658"/>
<path d="M805.6,2143.5 L816.1,2128.9 L826.6,2143.5 Z" fill="#58b658"/>
<path d="M962.5,2142.2 L973,2127.6 L983.5,2142.2 Z" fill="#58b658"/>
<path d="M1119.4,2142.8 L1129.9,2128.2 L1140.4,2142.8 Z" fill="#58b658"/>
<rect x="338.1" y="2167.4" width="17.5" height="15.5" fill="#e6b41e"/>
<rect x="495" y="2165.9" width="17.5" height="15.5" fill="#e6b41e"/>
<rect x="652" y="2165.3" width="17.5" height="15.5" fill="#e6b41e"/>
<rect x="808.9" y="2165.9" width="17.5" height="15.5" fill="#e6b41e"/>
<rect x="965.8" y="2167.3" width="17.5" height="15.5" fill="#e6b41e"/>
<rect x="1122.7" y="2168.7" width="17.5" height="15.5" fill="#e6b41e"/>
<line x1="1126" y1="1755.4" x2="1131" y2="1755.4" stroke="#bbb" stroke-width="1.5"/>
<line x1="405" y1="1640.3" x2="492.5" y2="1640.3" stroke="#de6a72" stroke-width="2.6"/>
<path d="M449.5,1630.8 L452.3,1637.2 L459.5,1637.7 L454,1642.2 L455.7,1648.9 L449.5,1645.3 L443.3,1648.9 L445,1642.2 L439.5,1637.7 L446.7,1637.2 Z" fill="#c9141e"/>
<text x="503.6" y="1651.1" font-family="'Liberation Serif','Times New Roman',serif" font-size="34" textLength="65.2" lengthAdjust="spacingAndGlyphs" fill="#1e1e1e" stroke="#1e1e1e" stroke-width="0.6">CH<tspan font-size="22" dy="6">4</tspan></text>
<line x1="581.6" y1="1640.3" x2="668.6" y2="1640.3" stroke="#8397c4" stroke-width="2.6"/>
<ellipse cx="625" cy="1640.3" rx="8.5" ry="6.2" fill="#2f4b91"/>
<text x="679.8" y="1651.1" font-family="'Liberation Serif','Times New Roman',serif" font-size="34" textLength="66.8" lengthAdjust="spacingAndGlyphs" fill="#1e1e1e" stroke="#1e1e1e" stroke-width="0.6">CO<tspan font-size="22" dy="6">2</tspan></text>
<line x1="756" y1="1640.3" x2="845.2" y2="1640.3" stroke="#f3d677" stroke-width="2.6"/>
<rect x="792.7" y="1634.5" width="16" height="11.5" fill="#e6b41e"/>
<text x="854.8" y="1651.1" font-family="'Liberation Serif','Times New Roman',serif" font-size="34" textLength="41.3" lengthAdjust="spacingAndGlyphs" fill="#1e1e1e" stroke="#1e1e1e" stroke-width="0.6">H<tspan font-size="22" dy="6">2</tspan></text>
<line x1="905.7" y1="1640.3" x2="994.8" y2="1640.3" stroke="#9ad49a" stroke-width="2.6"/>
<path d="M941.8,1645.8 L951.8,1631.8 L961.8,1645.8 Z" fill="#58b658"/>
<text x="1005.3" y="1651.1" font-family="'Liberation Serif','Times New Roman',serif" font-size="34" textLength="54.7" lengthAdjust="spacingAndGlyphs" fill="#1e1e1e" stroke="#1e1e1e" stroke-width="0.6">CO</text>
<text x="1290.2" y="1681.5" font-family="'Liberation Serif','Times New Roman',serif" font-size="86.7" textLength="101" lengthAdjust="spacingAndGlyphs" fill="#000">(e)</text>
<rect x="1535" y="1671.6" width="613.5" height="586" fill="none" stroke="#4a4a4a" stroke-width="3"/>
<line x1="2095.8" y1="2257.6" x2="2095.8" y2="2252.1" stroke="#4a4a4a" stroke-width="2.6"/>
<line x1="2044.8" y1="2257.6" x2="2044.8" y2="2247.6" stroke="#4a4a4a" stroke-width="2.6"/>
<line x1="1993.8" y1="2257.6" x2="1993.8" y2="2252.1" stroke="#4a4a4a" stroke-width="2.6"/>
<line x1="1942.8" y1="2257.6" x2="1942.8" y2="2247.6" stroke="#4a4a4a" stroke-width="2.6"/>
<line x1="1891.8" y1="2257.6" x2="1891.8" y2="2252.1" stroke="#4a4a4a" stroke-width="2.6"/>
<line x1="1840.8" y1="2257.6" x2="1840.8" y2="2247.6" stroke="#4a4a4a" stroke-width="2.6"/>
<line x1="1789.8" y1="2257.6" x2="1789.8" y2="2252.1" stroke="#4a4a4a" stroke-width="2.6"/>
<line x1="1738.8" y1="2257.6" x2="1738.8" y2="2247.6" stroke="#4a4a4a" stroke-width="2.6"/>
<line x1="1687.8" y1="2257.6" x2="1687.8" y2="2252.1" stroke="#4a4a4a" stroke-width="2.6"/>
<line x1="1636.8" y1="2257.6" x2="1636.8" y2="2247.6" stroke="#4a4a4a" stroke-width="2.6"/>
<line x1="1585.8" y1="2257.6" x2="1585.8" y2="2252.1" stroke="#4a4a4a" stroke-width="2.6"/>
<text x="2126.1" y="2289" font-family="'Liberation Serif','Times New Roman',serif" font-size="27.5" textLength="40.6" lengthAdjust="spacingAndGlyphs" fill="#2a2a2a">526</text>
<text x="2024.1" y="2289" font-family="'Liberation Serif','Times New Roman',serif" font-size="27.5" textLength="40.9" lengthAdjust="spacingAndGlyphs" fill="#2a2a2a">528</text>
<text x="1922.1" y="2289" font-family="'Liberation Serif','Times New Roman',serif" font-size="27.5" textLength="40.9" lengthAdjust="spacingAndGlyphs" fill="#2a2a2a">530</text>
<text x="1820" y="2289" font-family="'Liberation Serif','Times New Roman',serif" font-size="27.5" textLength="41.5" lengthAdjust="spacingAndGlyphs" fill="#2a2a2a">532</text>
<text x="1718.1" y="2289" font-family="'Liberation Serif','Times New Roman',serif" font-size="27.5" textLength="40.4" lengthAdjust="spacingAndGlyphs" fill="#2a2a2a">534</text>
<text x="1616.1" y="2289" font-family="'Liberation Serif','Times New Roman',serif" font-size="27.5" textLength="40.6" lengthAdjust="spacingAndGlyphs" fill="#2a2a2a">536</text>
<text x="1514.1" y="2289" font-family="'Liberation Serif','Times New Roman',serif" font-size="27.5" textLength="40.9" lengthAdjust="spacingAndGlyphs" fill="#2a2a2a">538</text>
<text x="1741.9" y="2322.5" font-family="'Liberation Serif','Times New Roman',serif" font-size="30" textLength="253" lengthAdjust="spacingAndGlyphs" fill="#2a2a2a">Binding energy (eV)</text>
<text transform="translate(1508.2,2041) rotate(-90)" x="0" y="0" font-family="'Liberation Serif','Times New Roman',serif" font-size="31" textLength="178.1" lengthAdjust="spacingAndGlyphs" fill="#2a2a2a">Intensity (a.u.)</text>
<text x="1554.7" y="1707.4" font-family="'Liberation Serif','Times New Roman',serif" font-size="24" font-weight="bold" textLength="50.1" lengthAdjust="spacingAndGlyphs" fill="#1a1a1a">O 1s</text>
<text x="1565" y="1770.2" font-family="'Liberation Serif','Times New Roman',serif" font-size="26" textLength="91.3" lengthAdjust="spacingAndGlyphs" fill="#2a2a2a">Ni/Al<tspan font-size="16" dy="6">2</tspan><tspan dy="-6">O</tspan><tspan font-size="16" dy="6">3</tspan></text>
<text x="1565" y="1905.5" font-family="'Liberation Serif','Times New Roman',serif" font-size="26" textLength="80.2" lengthAdjust="spacingAndGlyphs" fill="#2a2a2a">Ni/SiO<tspan font-size="16" dy="6">2</tspan></text>
<text x="1566.7" y="1995.1" font-family="'Liberation Serif','Times New Roman',serif" font-size="26" textLength="86.2" lengthAdjust="spacingAndGlyphs" fill="#2a2a2a">Ni/MgO</text>
<text x="1566.7" y="2084.3" font-family="'Liberation Serif','Times New Roman',serif" font-size="26" textLength="87" lengthAdjust="spacingAndGlyphs" fill="#2a2a2a">Ni/CeO<tspan font-size="16" dy="6">2</tspan></text>
<text x="1566.7" y="2187.2" font-family="'Liberation Serif','Times New Roman',serif" font-size="26" textLength="80.2" lengthAdjust="spacingAndGlyphs" fill="#2a2a2a">Ni/ZnO</text>
<path d="M1536,1787.6 L1538,1787.6 L1540,1787.6 L1542,1787.6 L1544,1787.6 L1546,1787.6 L1548,1787.6 L1550,1787.6 L1552,1787.6 L1554,1787.6 L1556,1787.6 L1558,1787.6 L1560,1787.6 L1562,1787.6 L1564,1787.6 L1566,1787.6 L1568,1787.6 L1570,1787.6 L1572,1787.6 L1574,1787.6 L1576,1787.6 L1578,1787.6 L1580,1787.6 L1582,1787.6 L1584,1787.5 L1586,1787.5 L1588,1787.5 L1590,1787.5 L1592,1787.5 L1594,1787.5 L1596,1787.5 L1598,1787.5 L1600,1787.5 L1602,1787.5 L1604,1787.5 L1606,1787.5 L1608,1787.4 L1610,1787.4 L1612,1787.4 L1614,1787.4 L1616,1787.4 L1618,1787.4 L1620,1787.3 L1622,1787.3 L1624,1787.3 L1626,1787.3 L1628,1787.2 L1630,1787.2 L1632,1787.2 L1634,1787.1 L1636,1787.1 L1638,1787.1 L1640,1787 L1642,1787 L1644,1786.9 L1646,1786.9 L1648,1786.8 L1650,1786.8 L1652,1786.7 L1654,1786.6 L1656,1786.6 L1658,1786.5 L1660,1786.4 L1662,1786.3 L1664,1786.2 L1666,1786.2 L1668,1786.1 L1670,1785.9 L1672,1785.8 L1674,1785.7 L1676,1785.6 L1678,1785.4 L1680,1785.3 L1682,1785.2 L1684,1785 L1686,1784.8 L1688,1784.7 L1690,1784.5 L1692,1784.3 L1694,1784.1 L1696,1783.8 L1698,1783.6 L1700,1783.4 L1702,1783.1 L1704,1782.9 L1706,1782.6 L1708,1782.3 L1710,1782 L1712,1781.7 L1714,1781.3 L1716,1781 L1718,1780.6 L1720,1780.3 L1722,1779.9 L1724,1779.5 L1726,1779 L1728,1778.6 L1730,1778.1 L1732,1777.6 L1734,1777.1 L1736,1776.6 L1738,1776.1 L1740,1775.5 L1742,1775 L1744,1774.4 L1746,1773.7 L1748,1773.1 L1750,1772.4 L1752,1771.7 L1754,1771 L1756,1770.3 L1758,1769.6 L1760,1768.8 L1762,1768 L1764,1767.2 L1766,1766.4 L1768,1765.5 L1770,1764.6 L1772,1763.7 L1774,1762.8 L1776,1761.9 L1778,1760.9 L1780,1759.9 L1782,1758.9 L1784,1757.9 L1786,1756.9 L1788,1755.8 L1790,1754.7 L1792,1753.6 L1794,1752.5 L1796,1751.4 L1798,1750.3 L1800,1749.1 L1802,1748 L1804,1746.8 L1806,1745.7 L1808,1744.5 L1810,1743.3 L1812,1742.1 L1814,1740.9 L1816,1739.7 L1818,1738.5 L1820,1737.4 L1822,1736.2 L1824,1735 L1826,1733.8 L1828,1732.7 L1830,1731.5 L1832,1730.4 L1834,1729.3 L1836,1728.2 L1838,1727.2 L1840,1726.1 L1842,1725.1 L1844,1724.1 L1846,1723.1 L1848,1722.2 L1850,1721.3 L1852,1720.5 L1854,1719.6 L1856,1718.9 L1858,1718.1 L1860,1717.4 L1862,1716.8 L1864,1716.2 L1866,1715.6 L1868,1715.1 L1870,1714.6 L1872,1714.2 L1874,1713.9 L1876,1713.6 L1878,1713.3 L1880,1713.2 L1882,1713 L1884,1713 L1886,1713 L1888,1713 L1890,1713.1 L1892,1713.3 L1894,1713.5 L1896,1713.8 L1898,1714.1 L1900,1714.5 L1902,1714.9 L1904,1715.5 L1906,1716 L1908,1716.6 L1910,1717.3 L1912,1718 L1914,1718.8 L1916,1719.6 L1918,1720.4 L1920,1721.3 L1922,1722.2 L1924,1723.2 L1926,1724.2 L1928,1725.3 L1930,1726.4 L1932,1727.5 L1934,1728.6 L1936,1729.8 L1938,1731 L1940,1732.2 L1942,1733.4 L1944,1734.7 L1946,1735.9 L1948,1737.2 L1950,1738.5 L1952,1739.8 L1954,1741.1 L1956,1742.4 L1958,1743.7 L1960,1745 L1962,1746.3 L1964,1747.5 L1966,1748.8 L1968,1750.1 L1970,1751.3 L1972,1752.6 L1974,1753.8 L1976,1755 L1978,1756.2 L1980,1757.4 L1982,1758.6 L1984,1759.7 L1986,1760.8 L1988,1761.9 L1990,1763 L1992,1764 L1994,1765 L1996,1766 L1998,1767 L2000,1767.9 L2002,1768.8 L2004,1769.7 L2006,1770.6 L2008,1771.4 L2010,1772.2 L2012,1773 L2014,1773.7 L2016,1774.4 L2018,1775.1 L2020,1775.8 L2022,1776.4 L2024,1777 L2026,1777.6 L2028,1778.2 L2030,1778.7 L2032,1779.2 L2034,1779.7 L2036,1780.2 L2038,1780.6 L2040,1781 L2042,1781.4 L2044,1781.8 L2046,1782.2 L2048,1782.5 L2050,1782.9 L2052,1783.2 L2054,1783.5 L2056,1783.7 L2058,1784 L2060,1784.2 L2062,1784.5 L2064,1784.7 L2066,1784.9 L2068,1785.1 L2070,1785.3 L2072,1785.4 L2074,1785.6 L2076,1785.7 L2078,1785.9 L2080,1786 L2082,1786.1 L2084,1786.2 L2086,1786.3 L2088,1786.4 L2090,1786.5 L2092,1786.6 L2094,1786.7 L2096,1786.8 L2098,1786.8 L2100,1786.9 L2102,1786.9 L2104,1787 L2106,1787 L2108,1787.1 L2110,1787.1 L2112,1787.2 L2114,1787.2 L2116,1787.2 L2118,1787.3 L2120,1787.3 L2122,1787.3 L2124,1787.4 L2126,1787.4 L2128,1787.4 L2130,1787.4 L2132,1787.4 L2134,1787.4 L2136,1787.5 L2138,1787.5 L2140,1787.5 L2142,1787.5 L2144,1787.5 L2146,1787.5 L2148,1787.5" fill="none" stroke="#9a9a9a" stroke-width="2.3" stroke-linejoin="round" stroke-linecap="round"/>
<path d="M1674,1785.8 L1676,1785.7 L1678,1785.5 L1680,1785.4 L1682,1785.3 L1684,1785.1 L1686,1785 L1688,1784.8 L1690,1784.7 L1692,1784.5 L1694,1784.3 L1696,1784.1 L1698,1783.9 L1700,1783.7 L1702,1783.5 L1704,1783.2 L1706,1783 L1708,1782.8 L1710,1782.5 L1712,1782.2 L1714,1781.9 L1716,1781.7 L1718,1781.4 L1720,1781 L1722,1780.7 L1724,1780.4 L1726,1780 L1728,1779.7 L1730,1779.3 L1732,1778.9 L1734,1778.5 L1736,1778.1 L1738,1777.7 L1740,1777.3 L1742,1776.9 L1744,1776.4 L1746,1776 L1748,1775.5 L1750,1775 L1752,1774.5 L1754,1774 L1756,1773.5 L1758,1773 L1760,1772.5 L1762,1771.9 L1764,1771.4 L1766,1770.8 L1768,1770.3 L1770,1769.7 L1772,1769.1 L1774,1768.5 L1776,1767.9 L1778,1767.3 L1780,1766.8 L1782,1766.2 L1784,1765.6 L1786,1764.9 L1788,1764.3 L1790,1763.7 L1792,1763.1 L1794,1762.5 L1796,1761.9 L1798,1761.3 L1800,1760.7 L1802,1760.1 L1804,1759.5 L1806,1759 L1808,1758.4 L1810,1757.8 L1812,1757.3 L1814,1756.7 L1816,1756.2 L1818,1755.7 L1820,1755.2 L1822,1754.7 L1824,1754.2 L1826,1753.7 L1828,1753.2 L1830,1752.8 L1832,1752.4 L1834,1752 L1836,1751.6 L1838,1751.3 L1840,1750.9 L1842,1750.6 L1844,1750.3 L1846,1750 L1848,1749.8 L1850,1749.5 L1852,1749.3 L1854,1749.2 L1856,1749 L1858,1748.9 L1860,1748.8 L1862,1748.7 L1864,1748.6 L1866,1748.6 L1868,1748.6 L1870,1748.6 L1872,1748.7 L1874,1748.7 L1876,1748.8 L1878,1749 L1880,1749.1 L1882,1749.3 L1884,1749.5 L1886,1749.7 L1888,1749.9 L1890,1750.2 L1892,1750.5 L1894,1750.8 L1896,1751.2 L1898,1751.5 L1900,1751.9 L1902,1752.3 L1904,1752.7 L1906,1753.1 L1908,1753.6 L1910,1754 L1912,1754.5 L1914,1755 L1916,1755.5 L1918,1756 L1920,1756.6 L1922,1757.1 L1924,1757.7 L1926,1758.2 L1928,1758.8 L1930,1759.4 L1932,1760 L1934,1760.5 L1936,1761.1 L1938,1761.7 L1940,1762.3 L1942,1762.9 L1944,1763.6 L1946,1764.2 L1948,1764.8 L1950,1765.4 L1952,1766 L1954,1766.6 L1956,1767.2 L1958,1767.8 L1960,1768.4 L1962,1768.9 L1964,1769.5 L1966,1770.1 L1968,1770.7 L1970,1771.2 L1972,1771.8 L1974,1772.3 L1976,1772.8 L1978,1773.4 L1980,1773.9 L1982,1774.4 L1984,1774.9 L1986,1775.3 L1988,1775.8 L1990,1776.3 L1992,1776.7 L1994,1777.2 L1996,1777.6 L1998,1778 L2000,1778.4 L2002,1778.8 L2004,1779.2 L2006,1779.6 L2008,1779.9 L2010,1780.3 L2012,1780.6 L2014,1780.9 L2016,1781.3 L2018,1781.6 L2020,1781.9 L2022,1782.1 L2024,1782.4 L2026,1782.7 L2028,1782.9 L2030,1783.2 L2032,1783.4 L2034,1783.6 L2036,1783.8 L2038,1784 L2040,1784.2 L2042,1784.4 L2044,1784.6 L2046,1784.8 L2048,1784.9 L2050,1785.1 L2052,1785.2 L2054,1785.4 L2056,1785.5 L2058,1785.6 L2060,1785.8 L2062,1785.9 L2064,1786 L2066,1786.1 L2068,1786.2" fill="none" stroke="#d04848" stroke-width="2.3" stroke-linejoin="round" stroke-linecap="round"/>
<path d="M1674,1787.5 L1676,1787.5 L1678,1787.5 L1680,1787.5 L1682,1787.5 L1684,1787.5 L1686,1787.4 L1688,1787.4 L1690,1787.4 L1692,1787.4 L1694,1787.4 L1696,1787.3 L1698,1787.3 L1700,1787.3 L1702,1787.3 L1704,1787.2 L1706,1787.2 L1708,1787.1 L1710,1787.1 L1712,1787.1 L1714,1787 L1716,1786.9 L1718,1786.9 L1720,1786.8 L1722,1786.7 L1724,1786.7 L1726,1786.6 L1728,1786.5 L1730,1786.4 L1732,1786.3 L1734,1786.2 L1736,1786.1 L1738,1786 L1740,1785.8 L1742,1785.7 L1744,1785.5 L1746,1785.4 L1748,1785.2 L1750,1785 L1752,1784.8 L1754,1784.6 L1756,1784.4 L1758,1784.2 L1760,1783.9 L1762,1783.7 L1764,1783.4 L1766,1783.1 L1768,1782.8 L1770,1782.5 L1772,1782.2 L1774,1781.9 L1776,1781.5 L1778,1781.2 L1780,1780.8 L1782,1780.4 L1784,1779.9 L1786,1779.5 L1788,1779.1 L1790,1778.6 L1792,1778.1 L1794,1777.6 L1796,1777.1 L1798,1776.6 L1800,1776 L1802,1775.5 L1804,1774.9 L1806,1774.3 L1808,1773.7 L1810,1773.1 L1812,1772.4 L1814,1771.8 L1816,1771.1 L1818,1770.5 L1820,1769.8 L1822,1769.1 L1824,1768.4 L1826,1767.7 L1828,1767 L1830,1766.3 L1832,1765.6 L1834,1764.9 L1836,1764.2 L1838,1763.5 L1840,1762.8 L1842,1762.1 L1844,1761.4 L1846,1760.7 L1848,1760 L1850,1759.4 L1852,1758.7 L1854,1758.1 L1856,1757.4 L1858,1756.8 L1860,1756.2 L1862,1755.7 L1864,1755.1 L1866,1754.6 L1868,1754.1 L1870,1753.6 L1872,1753.2 L1874,1752.7 L1876,1752.3 L1878,1752 L1880,1751.7 L1882,1751.4 L1884,1751.1 L1886,1750.9 L1888,1750.7 L1890,1750.5 L1892,1750.4 L1894,1750.3 L1896,1750.2 L1898,1750.2 L1900,1750.2 L1902,1750.3 L1904,1750.4 L1906,1750.5 L1908,1750.7 L1910,1750.9 L1912,1751.1 L1914,1751.4 L1916,1751.7 L1918,1752 L1920,1752.3 L1922,1752.7 L1924,1753.2 L1926,1753.6 L1928,1754.1 L1930,1754.6 L1932,1755.1 L1934,1755.7 L1936,1756.2 L1938,1756.8 L1940,1757.4 L1942,1758.1 L1944,1758.7 L1946,1759.4 L1948,1760 L1950,1760.7 L1952,1761.4 L1954,1762.1 L1956,1762.8 L1958,1763.5 L1960,1764.2 L1962,1764.9 L1964,1765.6 L1966,1766.3 L1968,1767 L1970,1767.7 L1972,1768.4 L1974,1769.1 L1976,1769.8 L1978,1770.5 L1980,1771.1 L1982,1771.8 L1984,1772.4 L1986,1773.1 L1988,1773.7 L1990,1774.3 L1992,1774.9 L1994,1775.5 L1996,1776 L1998,1776.6 L2000,1777.1 L2002,1777.6 L2004,1778.1 L2006,1778.6 L2008,1779.1 L2010,1779.5 L2012,1779.9 L2014,1780.4 L2016,1780.8 L2018,1781.2 L2020,1781.5 L2022,1781.9 L2024,1782.2 L2026,1782.5 L2028,1782.8 L2030,1783.1 L2032,1783.4 L2034,1783.7 L2036,1783.9 L2038,1784.2 L2040,1784.4 L2042,1784.6 L2044,1784.8 L2046,1785 L2048,1785.2 L2050,1785.4 L2052,1785.5 L2054,1785.7 L2056,1785.8 L2058,1786 L2060,1786.1 L2062,1786.2 L2064,1786.3 L2066,1786.4 L2068,1786.5" fill="none" stroke="#3aa83a" stroke-width="2.3" stroke-linejoin="round" stroke-linecap="round"/>
<path d="M1536,2006.1 L1538,2006.1 L1540,2006.1 L1542,2006.1 L1544,2006.1 L1546,2006.1 L1548,2006.1 L1550,2006.1 L1552,2006.1 L1554,2006.1 L1556,2006.1 L1558,2006.1 L1560,2006.1 L1562,2006.1 L1564,2006.1 L1566,2006.1 L1568,2006.1 L1570,2006.1 L1572,2006.1 L1574,2006.1 L1576,2006.1 L1578,2006.1 L1580,2006.1 L1582,2006.1 L1584,2006.1 L1586,2006.1 L1588,2006.1 L1590,2006.1 L1592,2006.1 L1594,2006.1 L1596,2006.1 L1598,2006.1 L1600,2006.1 L1602,2006.1 L1604,2006.1 L1606,2006.1 L1608,2006.1 L1610,2006.1 L1612,2006.1 L1614,2006.1 L1616,2006.1 L1618,2006.1 L1620,2006.1 L1622,2006.1 L1624,2006.1 L1626,2006.1 L1628,2006.1 L1630,2006.1 L1632,2006.1 L1634,2006.1 L1636,2006.1 L1638,2006.1 L1640,2006.1 L1642,2006.1 L1644,2006.1 L1646,2006.1 L1648,2006.1 L1650,2006.1 L1652,2006.1 L1654,2006.1 L1656,2006.1 L1658,2006.1 L1660,2006.1 L1662,2006.1 L1664,2006.1 L1666,2006.1 L1668,2006.1 L1670,2006.1 L1672,2006.1 L1674,2006.1 L1676,2006.1 L1678,2006.1 L1680,2006.1 L1682,2006.1 L1684,2006 L1686,2006 L1688,2006 L1690,2006 L1692,2006 L1694,2006 L1696,2006 L1698,2006 L1700,2006 L1702,2006 L1704,2005.9 L1706,2005.9 L1708,2005.9 L1710,2005.9 L1712,2005.9 L1714,2005.8 L1716,2005.8 L1718,2005.8 L1720,2005.7 L1722,2005.7 L1724,2005.7 L1726,2005.6 L1728,2005.6 L1730,2005.5 L1732,2005.5 L1734,2005.4 L1736,2005.4 L1738,2005.3 L1740,2005.2 L1742,2005.2 L1744,2005.1 L1746,2005 L1748,2004.9 L1750,2004.8 L1752,2004.7 L1754,2004.6 L1756,2004.5 L1758,2004.4 L1760,2004.2 L1762,2004.1 L1764,2004 L1766,2003.8 L1768,2003.7 L1770,2003.5 L1772,2003.3 L1774,2003.2 L1776,2003 L1778,2002.8 L1780,2002.6 L1782,2002.4 L1784,2002.2 L1786,2001.9 L1788,2001.7 L1790,2001.5 L1792,2001.2 L1794,2001 L1796,2000.7 L1798,2000.5 L1800,2000.2 L1802,1999.9 L1804,1999.7 L1806,1999.4 L1808,1999.1 L1810,1998.8 L1812,1998.5 L1814,1998.2 L1816,1997.9 L1818,1997.6 L1820,1997.3 L1822,1997.1 L1824,1996.8 L1826,1996.5 L1828,1996.2 L1830,1995.9 L1832,1995.6 L1834,1995.4 L1836,1995.1 L1838,1994.8 L1840,1994.6 L1842,1994.3 L1844,1994.1 L1846,1993.9 L1848,1993.6 L1850,1993.4 L1852,1993.2 L1854,1993 L1856,1992.8 L1858,1992.6 L1860,1992.4 L1862,1992.3 L1864,1992.1 L1866,1991.9 L1868,1991.8 L1870,1991.6 L1872,1991.5 L1874,1991.3 L1876,1991.2 L1878,1991 L1880,1990.8 L1882,1990.6 L1884,1990.5 L1886,1990.3 L1888,1990 L1890,1989.8 L1892,1989.6 L1894,1989.3 L1896,1989 L1898,1988.6 L1900,1988.3 L1902,1987.9 L1904,1987.5 L1906,1987 L1908,1986.5 L1910,1986 L1912,1985.5 L1914,1984.9 L1916,1984.3 L1918,1983.6 L1920,1982.9 L1922,1982.2 L1924,1981.5 L1926,1980.8 L1928,1980 L1930,1979.2 L1932,1978.4 L1934,1977.7 L1936,1976.9 L1938,1976.1 L1940,1975.4 L1942,1974.7 L1944,1974 L1946,1973.4 L1948,1972.8 L1950,1972.3 L1952,1971.8 L1954,1971.4 L1956,1971.1 L1958,1970.9 L1960,1970.7 L1962,1970.6 L1964,1970.6 L1966,1970.7 L1968,1970.9 L1970,1971.2 L1972,1971.5 L1974,1972 L1976,1972.5 L1978,1973.1 L1980,1973.8 L1982,1974.6 L1984,1975.4 L1986,1976.3 L1988,1977.3 L1990,1978.3 L1992,1979.3 L1994,1980.4 L1996,1981.5 L1998,1982.7 L2000,1983.8 L2002,1985 L2004,1986.1 L2006,1987.3 L2008,1988.4 L2010,1989.5 L2012,1990.6 L2014,1991.7 L2016,1992.7 L2018,1993.7 L2020,1994.6 L2022,1995.6 L2024,1996.4 L2026,1997.2 L2028,1998 L2030,1998.8 L2032,1999.4 L2034,2000.1 L2036,2000.7 L2038,2001.2 L2040,2001.7 L2042,2002.2 L2044,2002.6 L2046,2003 L2048,2003.4 L2050,2003.7 L2052,2004 L2054,2004.2 L2056,2004.5 L2058,2004.7 L2060,2004.9 L2062,2005 L2064,2005.2 L2066,2005.3 L2068,2005.4 L2070,2005.5 L2072,2005.6 L2074,2005.7 L2076,2005.7 L2078,2005.8 L2080,2005.8 L2082,2005.9 L2084,2005.9 L2086,2005.9 L2088,2006 L2090,2006 L2092,2006 L2094,2006 L2096,2006 L2098,2006 L2100,2006.1 L2102,2006.1 L2104,2006.1 L2106,2006.1 L2108,2006.1 L2110,2006.1 L2112,2006.1 L2114,2006.1 L2116,2006.1 L2118,2006.1 L2120,2006.1 L2122,2006.1 L2124,2006.1 L2126,2006.1 L2128,2006.1 L2130,2006.1 L2132,2006.1 L2134,2006.1 L2136,2006.1 L2138,2006.1 L2140,2006.1 L2142,2006.1 L2144,2006.1 L2146,2006.1 L2148,2006.1" fill="none" stroke="#9a9a9a" stroke-width="2.3" stroke-linejoin="round" stroke-linecap="round"/>
<path d="M1536,2006.1 L1538,2006.1 L1540,2006.1 L1542,2006.1 L1544,2006.1 L1546,2006.1 L1548,2006.1 L1550,2006.1 L1552,2006.1 L1554,2006.1 L1556,2006.1 L1558,2006.1 L1560,2006.1 L1562,2006.1 L1564,2006.1 L1566,2006.1 L1568,2006.1 L1570,2006.1 L1572,2006.1 L1574,2006.1 L1576,2006.1 L1578,2006.1 L1580,2006.1 L1582,2006.1 L1584,2006.1 L1586,2006.1 L1588,2006.1 L1590,2006.1 L1592,2006.1 L1594,2006.1 L1596,2006.1 L1598,2006.1 L1600,2006.1 L1602,2006.1 L1604,2006.1 L1606,2006.1 L1608,2006.1 L1610,2006.1 L1612,2006.1 L1614,2006.1 L1616,2006.1 L1618,2006.1 L1620,2006.1 L1622,2006.1 L1624,2006.1 L1626,2006.1 L1628,2006.1 L1630,2006.1 L1632,2006.1 L1634,2006.1 L1636,2006.1 L1638,2006.1 L1640,2006.1 L1642,2006.1 L1644,2006.1 L1646,2006.1 L1648,2006.1 L1650,2006.1 L1652,2006.1 L1654,2006.1 L1656,2006.1 L1658,2006.1 L1660,2006.1 L1662,2006.1 L1664,2006.1 L1666,2006.1 L1668,2006.1 L1670,2006.1 L1672,2006.1 L1674,2006.1 L1676,2006.1 L1678,2006.1 L1680,2006.1 L1682,2006.1 L1684,2006 L1686,2006 L1688,2006 L1690,2006 L1692,2006 L1694,2006 L1696,2006 L1698,2006 L1700,2006 L1702,2006 L1704,2005.9 L1706,2005.9 L1708,2005.9 L1710,2005.9 L1712,2005.9 L1714,2005.8 L1716,2005.8 L1718,2005.8 L1720,2005.7 L1722,2005.7 L1724,2005.7 L1726,2005.6 L1728,2005.6 L1730,2005.5 L1732,2005.5 L1734,2005.4 L1736,2005.4 L1738,2005.3 L1740,2005.2 L1742,2005.2 L1744,2005.1 L1746,2005 L1748,2004.9 L1750,2004.8 L1752,2004.7 L1754,2004.6 L1756,2004.5 L1758,2004.4 L1760,2004.2 L1762,2004.1 L1764,2004 L1766,2003.8 L1768,2003.7 L1770,2003.5 L1772,2003.3 L1774,2003.2 L1776,2003 L1778,2002.8 L1780,2002.6 L1782,2002.4 L1784,2002.2 L1786,2001.9 L1788,2001.7 L1790,2001.5 L1792,2001.2 L1794,2001 L1796,2000.7 L1798,2000.5 L1800,2000.2 L1802,1999.9 L1804,1999.7 L1806,1999.4 L1808,1999.1 L1810,1998.8 L1812,1998.5 L1814,1998.2 L1816,1997.9 L1818,1997.6 L1820,1997.4 L1822,1997.1 L1824,1996.8 L1826,1996.5 L1828,1996.2 L1830,1995.9 L1832,1995.7 L1834,1995.4 L1836,1995.1 L1838,1994.9 L1840,1994.6 L1842,1994.4 L1844,1994.2 L1846,1994 L1848,1993.8 L1850,1993.6 L1852,1993.4 L1854,1993.2 L1856,1993.1 L1858,1992.9 L1860,1992.8 L1862,1992.7 L1864,1992.6 L1866,1992.5 L1868,1992.5 L1870,1992.4 L1872,1992.4 L1874,1992.4 L1876,1992.4 L1878,1992.4 L1880,1992.5 L1882,1992.5 L1884,1992.6 L1886,1992.7 L1888,1992.8 L1890,1992.9 L1892,1993.1 L1894,1993.2 L1896,1993.4 L1898,1993.6 L1900,1993.8 L1902,1994 L1904,1994.2 L1906,1994.4 L1908,1994.6 L1910,1994.9 L1912,1995.1 L1914,1995.4 L1916,1995.7 L1918,1995.9 L1920,1996.2 L1922,1996.5 L1924,1996.8 L1926,1997.1 L1928,1997.4 L1930,1997.6 L1932,1997.9 L1934,1998.2 L1936,1998.5 L1938,1998.8 L1940,1999.1 L1942,1999.4 L1944,1999.7 L1946,1999.9 L1948,2000.2 L1950,2000.5 L1952,2000.7 L1954,2001 L1956,2001.2 L1958,2001.5 L1960,2001.7 L1962,2001.9 L1964,2002.2 L1966,2002.4 L1968,2002.6 L1970,2002.8 L1972,2003 L1974,2003.2 L1976,2003.3 L1978,2003.5 L1980,2003.7 L1982,2003.8 L1984,2004 L1986,2004.1 L1988,2004.2 L1990,2004.4 L1992,2004.5 L1994,2004.6 L1996,2004.7 L1998,2004.8 L2000,2004.9 L2002,2005 L2004,2005.1 L2006,2005.2 L2008,2005.2 L2010,2005.3 L2012,2005.4 L2014,2005.4 L2016,2005.5 L2018,2005.5 L2020,2005.6 L2022,2005.6 L2024,2005.7 L2026,2005.7 L2028,2005.7 L2030,2005.8 L2032,2005.8 L2034,2005.8 L2036,2005.9 L2038,2005.9 L2040,2005.9 L2042,2005.9 L2044,2005.9 L2046,2006 L2048,2006 L2050,2006 L2052,2006 L2054,2006 L2056,2006 L2058,2006 L2060,2006 L2062,2006 L2064,2006 L2066,2006.1 L2068,2006.1 L2070,2006.1 L2072,2006.1 L2074,2006.1 L2076,2006.1 L2078,2006.1 L2080,2006.1 L2082,2006.1 L2084,2006.1 L2086,2006.1 L2088,2006.1 L2090,2006.1 L2092,2006.1 L2094,2006.1 L2096,2006.1 L2098,2006.1 L2100,2006.1 L2102,2006.1 L2104,2006.1 L2106,2006.1 L2108,2006.1 L2110,2006.1 L2112,2006.1 L2114,2006.1 L2116,2006.1 L2118,2006.1 L2120,2006.1 L2122,2006.1 L2124,2006.1 L2126,2006.1 L2128,2006.1 L2130,2006.1 L2132,2006.1 L2134,2006.1 L2136,2006.1 L2138,2006.1 L2140,2006.1 L2142,2006.1 L2144,2006.1 L2146,2006.1 L2148,2006.1" fill="none" stroke="#d04848" stroke-width="2.3" stroke-linejoin="round" stroke-linecap="round" stroke-opacity="0.75"/>
<path d="M1746,2006.1 L1748,2006.1 L1750,2006.1 L1752,2006.1 L1754,2006.1 L1756,2006.1 L1758,2006.1 L1760,2006.1 L1762,2006.1 L1764,2006.1 L1766,2006.1 L1768,2006.1 L1770,2006.1 L1772,2006.1 L1774,2006.1 L1776,2006.1 L1778,2006.1 L1780,2006.1 L1782,2006.1 L1784,2006.1 L1786,2006.1 L1788,2006.1 L1790,2006.1 L1792,2006.1 L1794,2006.1 L1796,2006.1 L1798,2006.1 L1800,2006.1 L1802,2006.1 L1804,2006.1 L1806,2006.1 L1808,2006.1 L1810,2006.1 L1812,2006.1 L1814,2006.1 L1816,2006.1 L1818,2006.1 L1820,2006.1 L1822,2006.1 L1824,2006.1 L1826,2006.1 L1828,2006.1 L1830,2006.1 L1832,2006.1 L1834,2006.1 L1836,2006.1 L1838,2006.1 L1840,2006 L1842,2006 L1844,2006 L1846,2006 L1848,2006 L1850,2005.9 L1852,2005.9 L1854,2005.9 L1856,2005.8 L1858,2005.8 L1860,2005.7 L1862,2005.7 L1864,2005.6 L1866,2005.5 L1868,2005.4 L1870,2005.3 L1872,2005.2 L1874,2005 L1876,2004.8 L1878,2004.7 L1880,2004.4 L1882,2004.2 L1884,2003.9 L1886,2003.7 L1888,2003.3 L1890,2003 L1892,2002.6 L1894,2002.2 L1896,2001.7 L1898,2001.2 L1900,2000.6 L1902,2000 L1904,1999.4 L1906,1998.7 L1908,1998 L1910,1997.2 L1912,1996.4 L1914,1995.6 L1916,1994.7 L1918,1993.8 L1920,1992.8 L1922,1991.8 L1924,1990.8 L1926,1989.8 L1928,1988.7 L1930,1987.7 L1932,1986.6 L1934,1985.5 L1936,1984.5 L1938,1983.4 L1940,1982.4 L1942,1981.4 L1944,1980.5 L1946,1979.6 L1948,1978.7 L1950,1977.9 L1952,1977.2 L1954,1976.6 L1956,1976 L1958,1975.5 L1960,1975.1 L1962,1974.8 L1964,1974.5 L1966,1974.4 L1968,1974.4 L1970,1974.5 L1972,1974.6 L1974,1974.9 L1976,1975.3 L1978,1975.7 L1980,1976.3 L1982,1976.9 L1984,1977.6 L1986,1978.3 L1988,1979.1 L1990,1980 L1992,1981 L1994,1981.9 L1996,1982.9 L1998,1984 L2000,1985 L2002,1986.1 L2004,1987.1 L2006,1988.2 L2008,1989.3 L2010,1990.3 L2012,1991.3 L2014,1992.3 L2016,1993.3 L2018,1994.2 L2020,1995.2 L2022,1996 L2024,1996.8 L2026,1997.6 L2028,1998.4 L2030,1999.1 L2032,1999.7 L2034,2000.3 L2036,2000.9 L2038,2001.4 L2040,2001.9 L2042,2002.4 L2044,2002.8 L2046,2003.2 L2048,2003.5 L2050,2003.8 L2052,2004.1 L2054,2004.3 L2056,2004.6 L2058,2004.8 L2060,2004.9 L2062,2005.1" fill="none" stroke="#3aa83a" stroke-width="2.3" stroke-linejoin="round" stroke-linecap="round"/>
<path d="M1536,2102 L1538,2102 L1540,2102 L1542,2102 L1544,2102 L1546,2102 L1548,2102 L1550,2102 L1552,2102 L1554,2102 L1556,2102 L1558,2102 L1560,2102 L1562,2102 L1564,2102 L1566,2102 L1568,2102 L1570,2102 L1572,2102 L1574,2102 L1576,2102 L1578,2102 L1580,2102 L1582,2102 L1584,2102 L1586,2102 L1588,2102 L1590,2102 L1592,2102 L1594,2102 L1596,2102 L1598,2102 L1600,2102 L1602,2102 L1604,2102 L1606,2102 L1608,2102 L1610,2102 L1612,2102 L1614,2102 L1616,2102 L1618,2102 L1620,2102 L1622,2102 L1624,2102 L1626,2102 L1628,2102 L1630,2102 L1632,2102 L1634,2102 L1636,2102 L1638,2102 L1640,2102 L1642,2102 L1644,2102 L1646,2102 L1648,2102 L1650,2102 L1652,2102 L1654,2102 L1656,2102 L1658,2102 L1660,2102 L1662,2102 L1664,2102 L1666,2102 L1668,2102 L1670,2102 L1672,2102 L1674,2102 L1676,2101.9 L1678,2101.9 L1680,2101.9 L1682,2101.9 L1684,2101.9 L1686,2101.9 L1688,2101.9 L1690,2101.9 L1692,2101.9 L1694,2101.9 L1696,2101.9 L1698,2101.9 L1700,2101.8 L1702,2101.8 L1704,2101.8 L1706,2101.8 L1708,2101.8 L1710,2101.8 L1712,2101.7 L1714,2101.7 L1716,2101.7 L1718,2101.7 L1720,2101.6 L1722,2101.6 L1724,2101.6 L1726,2101.5 L1728,2101.5 L1730,2101.5 L1732,2101.4 L1734,2101.4 L1736,2101.4 L1738,2101.3 L1740,2101.3 L1742,2101.2 L1744,2101.1 L1746,2101.1 L1748,2101 L1750,2101 L1752,2100.9 L1754,2100.8 L1756,2100.7 L1758,2100.7 L1760,2100.6 L1762,2100.5 L1764,2100.4 L1766,2100.3 L1768,2100.2 L1770,2100.1 L1772,2100 L1774,2099.9 L1776,2099.7 L1778,2099.6 L1780,2099.5 L1782,2099.3 L1784,2099.2 L1786,2099 L1788,2098.9 L1790,2098.7 L1792,2098.6 L1794,2098.4 L1796,2098.2 L1798,2098.1 L1800,2097.9 L1802,2097.7 L1804,2097.5 L1806,2097.3 L1808,2097.1 L1810,2096.9 L1812,2096.7 L1814,2096.4 L1816,2096.2 L1818,2096 L1820,2095.8 L1822,2095.5 L1824,2095.3 L1826,2095 L1828,2094.8 L1830,2094.5 L1832,2094.3 L1834,2094 L1836,2093.8 L1838,2093.5 L1840,2093.3 L1842,2093 L1844,2092.8 L1846,2092.5 L1848,2092.3 L1850,2092 L1852,2091.7 L1854,2091.5 L1856,2091.2 L1858,2091 L1860,2090.7 L1862,2090.5 L1864,2090.2 L1866,2090 L1868,2089.8 L1870,2089.5 L1872,2089.3 L1874,2089.1 L1876,2088.8 L1878,2088.6 L1880,2088.4 L1882,2088.1 L1884,2087.9 L1886,2087.7 L1888,2087.4 L1890,2087.2 L1892,2087 L1894,2086.7 L1896,2086.5 L1898,2086.2 L1900,2085.9 L1902,2085.6 L1904,2085.3 L1906,2085 L1908,2084.6 L1910,2084.3 L1912,2083.9 L1914,2083.5 L1916,2083.1 L1918,2082.6 L1920,2082.1 L1922,2081.6 L1924,2081.1 L1926,2080.6 L1928,2080 L1930,2079.5 L1932,2078.9 L1934,2078.3 L1936,2077.7 L1938,2077.1 L1940,2076.4 L1942,2075.9 L1944,2075.3 L1946,2074.7 L1948,2074.2 L1950,2073.7 L1952,2073.3 L1954,2072.9 L1956,2072.5 L1958,2072.2 L1960,2072 L1962,2071.8 L1964,2071.8 L1966,2071.8 L1968,2071.9 L1970,2072 L1972,2072.3 L1974,2072.6 L1976,2073 L1978,2073.5 L1980,2074 L1982,2074.7 L1984,2075.4 L1986,2076.1 L1988,2076.9 L1990,2077.8 L1992,2078.7 L1994,2079.6 L1996,2080.6 L1998,2081.5 L2000,2082.5 L2002,2083.5 L2004,2084.5 L2006,2085.5 L2008,2086.4 L2010,2087.4 L2012,2088.3 L2014,2089.2 L2016,2090 L2018,2090.8 L2020,2091.6 L2022,2092.4 L2024,2093.1 L2026,2093.7 L2028,2094.4 L2030,2094.9 L2032,2095.5 L2034,2096 L2036,2096.5 L2038,2096.9 L2040,2097.3 L2042,2097.7 L2044,2098 L2046,2098.3 L2048,2098.6 L2050,2098.9 L2052,2099.1 L2054,2099.3 L2056,2099.5 L2058,2099.7 L2060,2099.9 L2062,2100 L2064,2100.2 L2066,2100.3 L2068,2100.4 L2070,2100.5 L2072,2100.6 L2074,2100.7 L2076,2100.8 L2078,2100.9 L2080,2101 L2082,2101.1 L2084,2101.1 L2086,2101.2 L2088,2101.2 L2090,2101.3 L2092,2101.3 L2094,2101.4 L2096,2101.4 L2098,2101.5 L2100,2101.5 L2102,2101.5 L2104,2101.6 L2106,2101.6 L2108,2101.6 L2110,2101.7 L2112,2101.7 L2114,2101.7 L2116,2101.7 L2118,2101.8 L2120,2101.8 L2122,2101.8 L2124,2101.8 L2126,2101.8 L2128,2101.8 L2130,2101.9 L2132,2101.9 L2134,2101.9 L2136,2101.9 L2138,2101.9 L2140,2101.9 L2142,2101.9 L2144,2101.9 L2146,2101.9 L2148,2101.9" fill="none" stroke="#9a9a9a" stroke-width="2.3" stroke-linejoin="round" stroke-linecap="round"/>
<path d="M1536,2102 L1538,2102 L1540,2102 L1542,2102 L1544,2102 L1546,2102 L1548,2102 L1550,2102 L1552,2102 L1554,2102 L1556,2102 L1558,2102 L1560,2102 L1562,2102 L1564,2102 L1566,2102 L1568,2102 L1570,2102 L1572,2102 L1574,2102 L1576,2102 L1578,2102 L1580,2102 L1582,2102 L1584,2102 L1586,2102 L1588,2102 L1590,2102 L1592,2102 L1594,2102 L1596,2102 L1598,2102 L1600,2102 L1602,2102 L1604,2102 L1606,2102 L1608,2102 L1610,2102 L1612,2102 L1614,2102 L1616,2102 L1618,2102 L1620,2102 L1622,2102 L1624,2102 L1626,2102 L1628,2102 L1630,2102 L1632,2102 L1634,2102 L1636,2102 L1638,2102 L1640,2102 L1642,2102 L1644,2102 L1646,2102 L1648,2102 L1650,2102 L1652,2102 L1654,2102 L1656,2102 L1658,2102 L1660,2102 L1662,2102 L1664,2102 L1666,2102 L1668,2102 L1670,2102 L1672,2102 L1674,2102 L1676,2101.9 L1678,2101.9 L1680,2101.9 L1682,2101.9 L1684,2101.9 L1686,2101.9 L1688,2101.9 L1690,2101.9 L1692,2101.9 L1694,2101.9 L1696,2101.9 L1698,2101.9 L1700,2101.8 L1702,2101.8 L1704,2101.8 L1706,2101.8 L1708,2101.8 L1710,2101.8 L1712,2101.7 L1714,2101.7 L1716,2101.7 L1718,2101.7 L1720,2101.6 L1722,2101.6 L1724,2101.6 L1726,2101.5 L1728,2101.5 L1730,2101.5 L1732,2101.4 L1734,2101.4 L1736,2101.4 L1738,2101.3 L1740,2101.3 L1742,2101.2 L1744,2101.1 L1746,2101.1 L1748,2101 L1750,2101 L1752,2100.9 L1754,2100.8 L1756,2100.7 L1758,2100.7 L1760,2100.6 L1762,2100.5 L1764,2100.4 L1766,2100.3 L1768,2100.2 L1770,2100.1 L1772,2100 L1774,2099.9 L1776,2099.7 L1778,2099.6 L1780,2099.5 L1782,2099.3 L1784,2099.2 L1786,2099 L1788,2098.9 L1790,2098.7 L1792,2098.6 L1794,2098.4 L1796,2098.2 L1798,2098.1 L1800,2097.9 L1802,2097.7 L1804,2097.5 L1806,2097.3 L1808,2097.1 L1810,2096.9 L1812,2096.7 L1814,2096.4 L1816,2096.2 L1818,2096 L1820,2095.8 L1822,2095.5 L1824,2095.3 L1826,2095 L1828,2094.8 L1830,2094.6 L1832,2094.3 L1834,2094 L1836,2093.8 L1838,2093.5 L1840,2093.3 L1842,2093 L1844,2092.8 L1846,2092.5 L1848,2092.3 L1850,2092 L1852,2091.8 L1854,2091.5 L1856,2091.3 L1858,2091 L1860,2090.8 L1862,2090.5 L1864,2090.3 L1866,2090.1 L1868,2089.8 L1870,2089.6 L1872,2089.4 L1874,2089.2 L1876,2089 L1878,2088.8 L1880,2088.6 L1882,2088.4 L1884,2088.3 L1886,2088.1 L1888,2088 L1890,2087.8 L1892,2087.7 L1894,2087.6 L1896,2087.5 L1898,2087.4 L1900,2087.3 L1902,2087.2 L1904,2087.1 L1906,2087.1 L1908,2087.1 L1910,2087 L1912,2087 L1914,2087 L1916,2087 L1918,2087 L1920,2087.1 L1922,2087.1 L1924,2087.1 L1926,2087.2 L1928,2087.3 L1930,2087.4 L1932,2087.5 L1934,2087.6 L1936,2087.7 L1938,2087.8 L1940,2088 L1942,2088.1 L1944,2088.3 L1946,2088.4 L1948,2088.6 L1950,2088.8 L1952,2089 L1954,2089.2 L1956,2089.4 L1958,2089.6 L1960,2089.8 L1962,2090.1 L1964,2090.3 L1966,2090.5 L1968,2090.8 L1970,2091 L1972,2091.3 L1974,2091.5 L1976,2091.8 L1978,2092 L1980,2092.3 L1982,2092.5 L1984,2092.8 L1986,2093 L1988,2093.3 L1990,2093.5 L1992,2093.8 L1994,2094 L1996,2094.3 L1998,2094.6 L2000,2094.8 L2002,2095 L2004,2095.3 L2006,2095.5 L2008,2095.8 L2010,2096 L2012,2096.2 L2014,2096.4 L2016,2096.7 L2018,2096.9 L2020,2097.1 L2022,2097.3 L2024,2097.5 L2026,2097.7 L2028,2097.9 L2030,2098.1 L2032,2098.2 L2034,2098.4 L2036,2098.6 L2038,2098.7 L2040,2098.9 L2042,2099 L2044,2099.2 L2046,2099.3 L2048,2099.5 L2050,2099.6 L2052,2099.7 L2054,2099.9 L2056,2100 L2058,2100.1 L2060,2100.2 L2062,2100.3 L2064,2100.4 L2066,2100.5 L2068,2100.6 L2070,2100.7 L2072,2100.7 L2074,2100.8 L2076,2100.9 L2078,2101 L2080,2101 L2082,2101.1 L2084,2101.1 L2086,2101.2 L2088,2101.3 L2090,2101.3 L2092,2101.4 L2094,2101.4 L2096,2101.4 L2098,2101.5 L2100,2101.5 L2102,2101.5 L2104,2101.6 L2106,2101.6 L2108,2101.6 L2110,2101.7 L2112,2101.7 L2114,2101.7 L2116,2101.7 L2118,2101.8 L2120,2101.8 L2122,2101.8 L2124,2101.8 L2126,2101.8 L2128,2101.8 L2130,2101.9 L2132,2101.9 L2134,2101.9 L2136,2101.9 L2138,2101.9 L2140,2101.9 L2142,2101.9 L2144,2101.9 L2146,2101.9 L2148,2101.9" fill="none" stroke="#d04848" stroke-width="2.3" stroke-linejoin="round" stroke-linecap="round" stroke-opacity="0.75"/>
<path d="M1746,2102 L1748,2102 L1750,2102 L1752,2102 L1754,2102 L1756,2102 L1758,2102 L1760,2102 L1762,2102 L1764,2102 L1766,2102 L1768,2102 L1770,2102 L1772,2102 L1774,2102 L1776,2102 L1778,2102 L1780,2102 L1782,2102 L1784,2102 L1786,2102 L1788,2102 L1790,2102 L1792,2102 L1794,2102 L1796,2102 L1798,2102 L1800,2102 L1802,2102 L1804,2102 L1806,2102 L1808,2102 L1810,2102 L1812,2102 L1814,2102 L1816,2102 L1818,2102 L1820,2102 L1822,2102 L1824,2102 L1826,2102 L1828,2102 L1830,2102 L1832,2102 L1834,2102 L1836,2102 L1838,2102 L1840,2102 L1842,2102 L1844,2102 L1846,2102 L1848,2102 L1850,2102 L1852,2102 L1854,2102 L1856,2102 L1858,2102 L1860,2102 L1862,2102 L1864,2102 L1866,2101.9 L1868,2101.9 L1870,2101.9 L1872,2101.9 L1874,2101.9 L1876,2101.8 L1878,2101.8 L1880,2101.7 L1882,2101.7 L1884,2101.6 L1886,2101.6 L1888,2101.5 L1890,2101.4 L1892,2101.3 L1894,2101.1 L1896,2101 L1898,2100.8 L1900,2100.6 L1902,2100.4 L1904,2100.2 L1906,2099.9 L1908,2099.6 L1910,2099.3 L1912,2098.9 L1914,2098.5 L1916,2098.1 L1918,2097.6 L1920,2097.1 L1922,2096.6 L1924,2096 L1926,2095.4 L1928,2094.7 L1930,2094.1 L1932,2093.4 L1934,2092.7 L1936,2092 L1938,2091.2 L1940,2090.5 L1942,2089.7 L1944,2089 L1946,2088.3 L1948,2087.6 L1950,2086.9 L1952,2086.3 L1954,2085.7 L1956,2085.1 L1958,2084.6 L1960,2084.2 L1962,2083.8 L1964,2083.5 L1966,2083.2 L1968,2083.1 L1970,2083 L1972,2083 L1974,2083.1 L1976,2083.2 L1978,2083.5 L1980,2083.8 L1982,2084.2 L1984,2084.6 L1986,2085.1 L1988,2085.7 L1990,2086.3 L1992,2086.9 L1994,2087.6 L1996,2088.3 L1998,2089 L2000,2089.7 L2002,2090.5 L2004,2091.2 L2006,2092 L2008,2092.7 L2010,2093.4 L2012,2094.1 L2014,2094.7 L2016,2095.4 L2018,2096 L2020,2096.6 L2022,2097.1 L2024,2097.6 L2026,2098.1 L2028,2098.5 L2030,2098.9 L2032,2099.3 L2034,2099.6 L2036,2099.9 L2038,2100.2 L2040,2100.4 L2042,2100.6 L2044,2100.8 L2046,2101 L2048,2101.1 L2050,2101.3 L2052,2101.4 L2054,2101.5 L2056,2101.6 L2058,2101.6 L2060,2101.7 L2062,2101.7" fill="none" stroke="#3aa83a" stroke-width="2.3" stroke-linejoin="round" stroke-linecap="round"/>
<path d="M1536,2198.2 L1538,2198.2 L1540,2198.2 L1542,2198.2 L1544,2198.2 L1546,2198.2 L1548,2198.2 L1550,2198.2 L1552,2198.2 L1554,2198.2 L1556,2198.2 L1558,2198.2 L1560,2198.2 L1562,2198.2 L1564,2198.2 L1566,2198.2 L1568,2198.2 L1570,2198.2 L1572,2198.2 L1574,2198.2 L1576,2198.2 L1578,2198.2 L1580,2198.2 L1582,2198.2 L1584,2198.2 L1586,2198.2 L1588,2198.2 L1590,2198.2 L1592,2198.2 L1594,2198.2 L1596,2198.2 L1598,2198.2 L1600,2198.2 L1602,2198.2 L1604,2198.2 L1606,2198.2 L1608,2198.2 L1610,2198.2 L1612,2198.2 L1614,2198.2 L1616,2198.2 L1618,2198.2 L1620,2198.2 L1622,2198.2 L1624,2198.2 L1626,2198.2 L1628,2198.2 L1630,2198.2 L1632,2198.2 L1634,2198.2 L1636,2198.2 L1638,2198.2 L1640,2198.2 L1642,2198.2 L1644,2198.2 L1646,2198.2 L1648,2198.2 L1650,2198.2 L1652,2198.2 L1654,2198.2 L1656,2198.2 L1658,2198.2 L1660,2198.2 L1662,2198.1 L1664,2198.1 L1666,2198.1 L1668,2198.1 L1670,2198.1 L1672,2198.1 L1674,2198.1 L1676,2198.1 L1678,2198.1 L1680,2198.1 L1682,2198.1 L1684,2198 L1686,2198 L1688,2198 L1690,2198 L1692,2198 L1694,2197.9 L1696,2197.9 L1698,2197.9 L1700,2197.9 L1702,2197.8 L1704,2197.8 L1706,2197.8 L1708,2197.7 L1710,2197.7 L1712,2197.7 L1714,2197.6 L1716,2197.6 L1718,2197.5 L1720,2197.4 L1722,2197.4 L1724,2197.3 L1726,2197.3 L1728,2197.2 L1730,2197.1 L1732,2197 L1734,2196.9 L1736,2196.8 L1738,2196.7 L1740,2196.6 L1742,2196.5 L1744,2196.4 L1746,2196.3 L1748,2196.2 L1750,2196 L1752,2195.9 L1754,2195.7 L1756,2195.6 L1758,2195.4 L1760,2195.3 L1762,2195.1 L1764,2194.9 L1766,2194.7 L1768,2194.5 L1770,2194.3 L1772,2194.1 L1774,2193.9 L1776,2193.6 L1778,2193.4 L1780,2193.1 L1782,2192.9 L1784,2192.6 L1786,2192.4 L1788,2192.1 L1790,2191.8 L1792,2191.5 L1794,2191.2 L1796,2190.9 L1798,2190.6 L1800,2190.3 L1802,2190 L1804,2189.7 L1806,2189.3 L1808,2189 L1810,2188.7 L1812,2188.3 L1814,2188 L1816,2187.7 L1818,2187.3 L1820,2187 L1822,2186.6 L1824,2186.3 L1826,2186 L1828,2185.6 L1830,2185.3 L1832,2185 L1834,2184.6 L1836,2184.3 L1838,2184 L1840,2183.7 L1842,2183.4 L1844,2183.1 L1846,2182.8 L1848,2182.5 L1850,2182.2 L1852,2181.9 L1854,2181.6 L1856,2181.3 L1858,2181 L1860,2180.7 L1862,2180.4 L1864,2180 L1866,2179.7 L1868,2179.3 L1870,2179 L1872,2178.6 L1874,2178.1 L1876,2177.7 L1878,2177.2 L1880,2176.6 L1882,2176 L1884,2175.4 L1886,2174.7 L1888,2174 L1890,2173.2 L1892,2172.4 L1894,2171.5 L1896,2170.6 L1898,2169.7 L1900,2168.7 L1902,2167.7 L1904,2166.7 L1906,2165.8 L1908,2164.8 L1910,2163.9 L1912,2163 L1914,2162.2 L1916,2161.4 L1918,2160.8 L1920,2160.3 L1922,2159.9 L1924,2159.6 L1926,2159.5 L1928,2159.5 L1930,2159.6 L1932,2160 L1934,2160.5 L1936,2161.1 L1938,2161.9 L1940,2162.8 L1942,2163.8 L1944,2165 L1946,2166.2 L1948,2167.5 L1950,2168.9 L1952,2170.4 L1954,2171.8 L1956,2173.3 L1958,2174.8 L1960,2176.3 L1962,2177.7 L1964,2179.1 L1966,2180.5 L1968,2181.8 L1970,2183.1 L1972,2184.2 L1974,2185.3 L1976,2186.4 L1978,2187.3 L1980,2188.2 L1982,2189.1 L1984,2189.8 L1986,2190.5 L1988,2191.1 L1990,2191.7 L1992,2192.2 L1994,2192.7 L1996,2193.1 L1998,2193.5 L2000,2193.9 L2002,2194.2 L2004,2194.5 L2006,2194.7 L2008,2195 L2010,2195.2 L2012,2195.4 L2014,2195.6 L2016,2195.8 L2018,2196 L2020,2196.1 L2022,2196.2 L2024,2196.4 L2026,2196.5 L2028,2196.6 L2030,2196.7 L2032,2196.8 L2034,2196.9 L2036,2197 L2038,2197.1 L2040,2197.2 L2042,2197.2 L2044,2197.3 L2046,2197.4 L2048,2197.4 L2050,2197.5 L2052,2197.6 L2054,2197.6 L2056,2197.7 L2058,2197.7 L2060,2197.7 L2062,2197.8 L2064,2197.8 L2066,2197.8 L2068,2197.9 L2070,2197.9 L2072,2197.9 L2074,2197.9 L2076,2198 L2078,2198 L2080,2198 L2082,2198 L2084,2198 L2086,2198.1 L2088,2198.1 L2090,2198.1 L2092,2198.1 L2094,2198.1 L2096,2198.1 L2098,2198.1 L2100,2198.1 L2102,2198.1 L2104,2198.1 L2106,2198.1 L2108,2198.2 L2110,2198.2 L2112,2198.2 L2114,2198.2 L2116,2198.2 L2118,2198.2 L2120,2198.2 L2122,2198.2 L2124,2198.2 L2126,2198.2 L2128,2198.2 L2130,2198.2 L2132,2198.2 L2134,2198.2 L2136,2198.2 L2138,2198.2 L2140,2198.2 L2142,2198.2 L2144,2198.2 L2146,2198.2 L2148,2198.2" fill="none" stroke="#9a9a9a" stroke-width="2.3" stroke-linejoin="round" stroke-linecap="round"/>
<path d="M1746,2196.3 L1748,2196.2 L1750,2196 L1752,2195.9 L1754,2195.7 L1756,2195.6 L1758,2195.4 L1760,2195.3 L1762,2195.1 L1764,2194.9 L1766,2194.7 L1768,2194.5 L1770,2194.3 L1772,2194.1 L1774,2193.9 L1776,2193.6 L1778,2193.4 L1780,2193.1 L1782,2192.9 L1784,2192.6 L1786,2192.4 L1788,2192.1 L1790,2191.8 L1792,2191.5 L1794,2191.2 L1796,2190.9 L1798,2190.6 L1800,2190.3 L1802,2190 L1804,2189.7 L1806,2189.3 L1808,2189 L1810,2188.7 L1812,2188.3 L1814,2188 L1816,2187.7 L1818,2187.3 L1820,2187 L1822,2186.7 L1824,2186.3 L1826,2186 L1828,2185.6 L1830,2185.3 L1832,2185 L1834,2184.7 L1836,2184.3 L1838,2184 L1840,2183.7 L1842,2183.4 L1844,2183.1 L1846,2182.9 L1848,2182.6 L1850,2182.3 L1852,2182.1 L1854,2181.8 L1856,2181.6 L1858,2181.4 L1860,2181.2 L1862,2181 L1864,2180.8 L1866,2180.7 L1868,2180.5 L1870,2180.4 L1872,2180.3 L1874,2180.2 L1876,2180.1 L1878,2180.1 L1880,2180 L1882,2180 L1884,2180 L1886,2180 L1888,2180 L1890,2180.1 L1892,2180.1 L1894,2180.2 L1896,2180.3 L1898,2180.4 L1900,2180.5 L1902,2180.7 L1904,2180.8 L1906,2181 L1908,2181.2 L1910,2181.4 L1912,2181.6 L1914,2181.8 L1916,2182.1 L1918,2182.3 L1920,2182.6 L1922,2182.9 L1924,2183.1 L1926,2183.4 L1928,2183.7 L1930,2184 L1932,2184.3 L1934,2184.7 L1936,2185 L1938,2185.3 L1940,2185.6 L1942,2186 L1944,2186.3 L1946,2186.7 L1948,2187 L1950,2187.3 L1952,2187.7 L1954,2188 L1956,2188.3 L1958,2188.7 L1960,2189 L1962,2189.3 L1964,2189.7 L1966,2190 L1968,2190.3 L1970,2190.6 L1972,2190.9 L1974,2191.2 L1976,2191.5 L1978,2191.8 L1980,2192.1 L1982,2192.4 L1984,2192.6 L1986,2192.9 L1988,2193.1 L1990,2193.4 L1992,2193.6 L1994,2193.9 L1996,2194.1 L1998,2194.3 L2000,2194.5 L2002,2194.7 L2004,2194.9 L2006,2195.1 L2008,2195.3 L2010,2195.4 L2012,2195.6 L2014,2195.7 L2016,2195.9 L2018,2196 L2020,2196.2 L2022,2196.3 L2024,2196.4 L2026,2196.5 L2028,2196.6 L2030,2196.7 L2032,2196.8 L2034,2196.9 L2036,2197 L2038,2197.1 L2040,2197.2 L2042,2197.3 L2044,2197.3" fill="none" stroke="#d04848" stroke-width="2.3" stroke-linejoin="round" stroke-linecap="round"/>
<path d="M1746,2198.2 L1748,2198.2 L1750,2198.2 L1752,2198.2 L1754,2198.2 L1756,2198.2 L1758,2198.2 L1760,2198.2 L1762,2198.2 L1764,2198.2 L1766,2198.2 L1768,2198.2 L1770,2198.2 L1772,2198.2 L1774,2198.2 L1776,2198.2 L1778,2198.2 L1780,2198.2 L1782,2198.2 L1784,2198.2 L1786,2198.2 L1788,2198.2 L1790,2198.2 L1792,2198.2 L1794,2198.2 L1796,2198.2 L1798,2198.2 L1800,2198.2 L1802,2198.2 L1804,2198.2 L1806,2198.2 L1808,2198.2 L1810,2198.2 L1812,2198.2 L1814,2198.2 L1816,2198.2 L1818,2198.2 L1820,2198.2 L1822,2198.2 L1824,2198.2 L1826,2198.2 L1828,2198.2 L1830,2198.2 L1832,2198.2 L1834,2198.2 L1836,2198.2 L1838,2198.2 L1840,2198.2 L1842,2198.1 L1844,2198.1 L1846,2198.1 L1848,2198.1 L1850,2198 L1852,2198 L1854,2197.9 L1856,2197.9 L1858,2197.8 L1860,2197.7 L1862,2197.5 L1864,2197.4 L1866,2197.2 L1868,2197 L1870,2196.7 L1872,2196.5 L1874,2196.1 L1876,2195.7 L1878,2195.3 L1880,2194.8 L1882,2194.2 L1884,2193.6 L1886,2192.9 L1888,2192.2 L1890,2191.3 L1892,2190.5 L1894,2189.5 L1896,2188.5 L1898,2187.5 L1900,2186.4 L1902,2185.2 L1904,2184.1 L1906,2182.9 L1908,2181.8 L1910,2180.7 L1912,2179.6 L1914,2178.5 L1916,2177.6 L1918,2176.7 L1920,2175.9 L1922,2175.2 L1924,2174.6 L1926,2174.2 L1928,2173.9 L1930,2173.8 L1932,2173.8 L1934,2174 L1936,2174.3 L1938,2174.7 L1940,2175.3 L1942,2176 L1944,2176.8 L1946,2177.7 L1948,2178.7 L1950,2179.8 L1952,2180.9 L1954,2182 L1956,2183.2 L1958,2184.3 L1960,2185.5 L1962,2186.6 L1964,2187.7 L1966,2188.7 L1968,2189.7 L1970,2190.6 L1972,2191.5 L1974,2192.3 L1976,2193.1 L1978,2193.7 L1980,2194.4 L1982,2194.9 L1984,2195.4 L1986,2195.8 L1988,2196.2 L1990,2196.5 L1992,2196.8 L1994,2197 L1996,2197.2 L1998,2197.4 L2000,2197.6 L2002,2197.7 L2004,2197.8 L2006,2197.9 L2008,2197.9 L2010,2198 L2012,2198 L2014,2198.1 L2016,2198.1 L2018,2198.1 L2020,2198.1 L2022,2198.2 L2024,2198.2 L2026,2198.2 L2028,2198.2 L2030,2198.2 L2032,2198.2 L2034,2198.2 L2036,2198.2 L2038,2198.2 L2040,2198.2 L2042,2198.2 L2044,2198.2" fill="none" stroke="#3aa83a" stroke-width="2.3" stroke-linejoin="round" stroke-linecap="round"/>
<path d="M1536,1923.9 L1538,1923.9 L1540,1923.9 L1542,1923.9 L1544,1923.8 L1546,1923.8 L1548,1923.8 L1550,1923.8 L1552,1923.8 L1554,1923.7 L1556,1923.7 L1558,1923.7 L1560,1923.7 L1562,1923.7 L1564,1923.6 L1566,1923.6 L1568,1923.6 L1570,1923.6 L1572,1923.6 L1574,1923.5 L1576,1923.5 L1578,1923.5 L1580,1923.5 L1582,1923.4 L1584,1923.4 L1586,1923.4 L1588,1923.4 L1590,1923.3 L1592,1923.3 L1594,1923.3 L1596,1923.2 L1598,1923.2 L1600,1923.2 L1602,1923.1 L1604,1923.1 L1606,1923.1 L1608,1923 L1610,1923 L1612,1922.9 L1614,1922.9 L1616,1922.9 L1618,1922.8 L1620,1922.8 L1622,1922.7 L1624,1922.7 L1626,1922.6 L1628,1922.6 L1630,1922.5 L1632,1922.4 L1634,1922.4 L1636,1922.3 L1638,1922.2 L1640,1922.2 L1642,1922.1 L1644,1922 L1646,1921.9 L1648,1921.8 L1650,1921.7 L1652,1921.6 L1654,1921.5 L1656,1921.3 L1658,1921.2 L1660,1921 L1662,1920.8 L1664,1920.7 L1666,1920.5 L1668,1920.2 L1670,1920 L1672,1919.8 L1674,1919.5 L1676,1919.2 L1678,1918.8 L1680,1918.5 L1682,1918.1 L1684,1917.6 L1686,1917.2 L1688,1916.7 L1690,1916.1 L1692,1915.5 L1694,1914.9 L1696,1914.2 L1698,1913.4 L1700,1912.6 L1702,1911.7 L1704,1910.8 L1706,1909.8 L1708,1908.7 L1710,1907.5 L1712,1906.3 L1714,1905 L1716,1903.6 L1718,1902.1 L1720,1900.5 L1722,1898.9 L1724,1897.2 L1726,1895.3 L1728,1893.4 L1730,1891.4 L1732,1889.4 L1734,1887.2 L1736,1885 L1738,1882.7 L1740,1880.3 L1742,1877.8 L1744,1875.3 L1746,1872.8 L1748,1870.2 L1750,1867.5 L1752,1864.9 L1754,1862.2 L1756,1859.5 L1758,1856.8 L1760,1854.1 L1762,1851.5 L1764,1848.9 L1766,1846.4 L1768,1843.9 L1770,1841.6 L1772,1839.3 L1774,1837.2 L1776,1835.2 L1778,1833.4 L1780,1831.7 L1782,1830.2 L1784,1829 L1786,1827.9 L1788,1827.1 L1790,1826.5 L1792,1826.1 L1794,1826 L1796,1826.1 L1798,1826.5 L1800,1827.1 L1802,1828 L1804,1829.1 L1806,1830.4 L1808,1831.9 L1810,1833.5 L1812,1835.4 L1814,1837.4 L1816,1839.5 L1818,1841.8 L1820,1844.2 L1822,1846.6 L1824,1849.2 L1826,1851.8 L1828,1854.4 L1830,1857.1 L1832,1859.8 L1834,1862.5 L1836,1865.1 L1838,1867.8 L1840,1870.4 L1842,1873 L1844,1875.6 L1846,1878.1 L1848,1880.5 L1850,1882.9 L1852,1885.2 L1854,1887.4 L1856,1889.6 L1858,1891.6 L1860,1893.6 L1862,1895.5 L1864,1897.3 L1866,1899.1 L1868,1900.7 L1870,1902.3 L1872,1903.7 L1874,1905.1 L1876,1906.4 L1878,1907.6 L1880,1908.8 L1882,1909.9 L1884,1910.9 L1886,1911.8 L1888,1912.7 L1890,1913.5 L1892,1914.2 L1894,1914.9 L1896,1915.6 L1898,1916.2 L1900,1916.7 L1902,1917.2 L1904,1917.7 L1906,1918.1 L1908,1918.5 L1910,1918.9 L1912,1919.2 L1914,1919.5 L1916,1919.8 L1918,1920 L1920,1920.3 L1922,1920.5 L1924,1920.7 L1926,1920.9 L1928,1921 L1930,1921.2 L1932,1921.3 L1934,1921.5 L1936,1921.6 L1938,1921.7 L1940,1921.8 L1942,1921.9 L1944,1922 L1946,1922.1 L1948,1922.2 L1950,1922.2 L1952,1922.3 L1954,1922.4 L1956,1922.4 L1958,1922.5 L1960,1922.6 L1962,1922.6 L1964,1922.7 L1966,1922.7 L1968,1922.8 L1970,1922.8 L1972,1922.9 L1974,1922.9 L1976,1923 L1978,1923 L1980,1923 L1982,1923.1 L1984,1923.1 L1986,1923.1 L1988,1923.2 L1990,1923.2 L1992,1923.2 L1994,1923.3 L1996,1923.3 L1998,1923.3 L2000,1923.4 L2002,1923.4 L2004,1923.4 L2006,1923.4 L2008,1923.5 L2010,1923.5 L2012,1923.5 L2014,1923.5 L2016,1923.6 L2018,1923.6 L2020,1923.6 L2022,1923.6 L2024,1923.7 L2026,1923.7 L2028,1923.7 L2030,1923.7 L2032,1923.7 L2034,1923.7 L2036,1923.8 L2038,1923.8 L2040,1923.8 L2042,1923.8 L2044,1923.8 L2046,1923.9 L2048,1923.9 L2050,1923.9 L2052,1923.9 L2054,1923.9 L2056,1923.9 L2058,1923.9 L2060,1924 L2062,1924 L2064,1924 L2066,1924 L2068,1924 L2070,1924 L2072,1924 L2074,1924 L2076,1924.1 L2078,1924.1 L2080,1924.1 L2082,1924.1 L2084,1924.1 L2086,1924.1 L2088,1924.1 L2090,1924.1 L2092,1924.1 L2094,1924.2 L2096,1924.2 L2098,1924.2 L2100,1924.2 L2102,1924.2 L2104,1924.2 L2106,1924.2 L2108,1924.2 L2110,1924.2 L2112,1924.2 L2114,1924.2 L2116,1924.2 L2118,1924.3 L2120,1924.3 L2122,1924.3 L2124,1924.3 L2126,1924.3 L2128,1924.3 L2130,1924.3 L2132,1924.3 L2134,1924.3 L2136,1924.3 L2138,1924.3 L2140,1924.3 L2142,1924.3 L2144,1924.3 L2146,1924.4 L2148,1924.4" fill="none" stroke="#9a9a9a" stroke-width="2.3" stroke-linejoin="round" stroke-linecap="round"/>
</svg>
</body></html>
